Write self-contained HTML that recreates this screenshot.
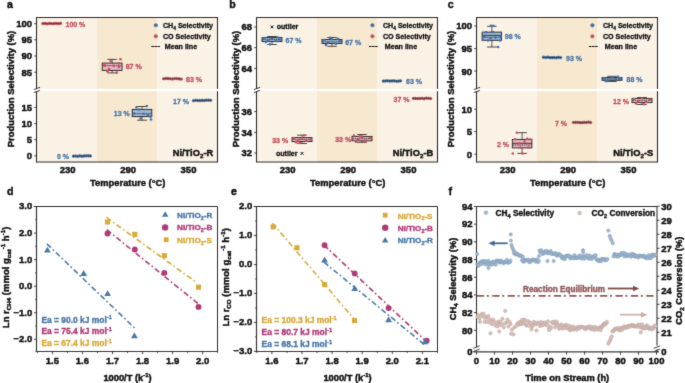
<!DOCTYPE html>
<html><head><meta charset="utf-8"><title>Figure</title>
<style>html,body{margin:0;padding:0;background:#fff;} svg{display:block;will-change:transform;} text{font-family:"Liberation Sans", sans-serif; stroke-linejoin:round;}</style>
</head><body>
<svg width="685" height="383" viewBox="0 0 685 383" font-family='"Liberation Sans", sans-serif'>
<defs><filter id="soft" x="0" y="0" width="685" height="383" filterUnits="userSpaceOnUse" color-interpolation-filters="sRGB"><feConvolveMatrix order="3" kernelMatrix="0.01134 0.08382 0.01134 0.08382 0.61935 0.08382 0.01134 0.08382 0.01134" edgeMode="duplicate" preserveAlpha="true"/></filter></defs>
<rect width="685" height="383" fill="#ffffff"/>
<g filter="url(#soft)">
<rect width="685" height="383" fill="#ffffff"/>
<rect x="36.50" y="17.50" width="60.50" height="145.00" fill="#FBF2E6" stroke="none" stroke-width="1" />
<rect x="97.00" y="17.50" width="60.00" height="145.00" fill="#F7E8D0" stroke="none" stroke-width="1" />
<rect x="157.00" y="17.50" width="60.50" height="145.00" fill="#FBF2E6" stroke="none" stroke-width="1" />
<rect x="35.90" y="88.90" width="182.60" height="2.30" fill="#ffffff" stroke="none" stroke-width="1" />
<line x1="36.50" y1="17.50" x2="217.50" y2="17.50" stroke="#2e2e2e" stroke-width="1" />
<line x1="36.50" y1="162.00" x2="217.50" y2="162.00" stroke="#2e2e2e" stroke-width="1.1" />
<line x1="36.50" y1="17.00" x2="36.50" y2="88.90" stroke="#2e2e2e" stroke-width="1.1" />
<line x1="36.50" y1="91.20" x2="36.50" y2="162.50" stroke="#2e2e2e" stroke-width="1.1" />
<line x1="217.50" y1="17.00" x2="217.50" y2="88.90" stroke="#2e2e2e" stroke-width="1.1" />
<line x1="217.50" y1="91.20" x2="217.50" y2="162.50" stroke="#2e2e2e" stroke-width="1.1" />
<line x1="33.90" y1="89.60" x2="40.00" y2="87.30" stroke="#222" stroke-width="0.9" />
<line x1="33.90" y1="92.60" x2="40.00" y2="90.40" stroke="#222" stroke-width="0.9" />
<line x1="34.20" y1="23.70" x2="36.50" y2="23.70" stroke="#2e2e2e" stroke-width="0.9" />
<text x="32.10" y="27.10" font-size="9.5" fill="#111" stroke="#111" stroke-width="0.45" text-anchor="end" font-weight="bold" >100</text>
<line x1="34.20" y1="39.80" x2="36.50" y2="39.80" stroke="#2e2e2e" stroke-width="0.9" />
<text x="32.10" y="43.20" font-size="9.5" fill="#111" stroke="#111" stroke-width="0.45" text-anchor="end" font-weight="bold" >95</text>
<line x1="34.20" y1="56.00" x2="36.50" y2="56.00" stroke="#2e2e2e" stroke-width="0.9" />
<text x="32.10" y="59.40" font-size="9.5" fill="#111" stroke="#111" stroke-width="0.45" text-anchor="end" font-weight="bold" >90</text>
<line x1="34.20" y1="72.20" x2="36.50" y2="72.20" stroke="#2e2e2e" stroke-width="0.9" />
<text x="32.10" y="75.60" font-size="9.5" fill="#111" stroke="#111" stroke-width="0.45" text-anchor="end" font-weight="bold" >85</text>
<line x1="34.20" y1="107.40" x2="36.50" y2="107.40" stroke="#2e2e2e" stroke-width="0.9" />
<text x="32.10" y="110.80" font-size="9.5" fill="#111" stroke="#111" stroke-width="0.45" text-anchor="end" font-weight="bold" >15</text>
<line x1="34.20" y1="123.60" x2="36.50" y2="123.60" stroke="#2e2e2e" stroke-width="0.9" />
<text x="32.10" y="127.00" font-size="9.5" fill="#111" stroke="#111" stroke-width="0.45" text-anchor="end" font-weight="bold" >10</text>
<line x1="34.20" y1="139.70" x2="36.50" y2="139.70" stroke="#2e2e2e" stroke-width="0.9" />
<text x="32.10" y="143.10" font-size="9.5" fill="#111" stroke="#111" stroke-width="0.45" text-anchor="end" font-weight="bold" >5</text>
<line x1="34.20" y1="155.90" x2="36.50" y2="155.90" stroke="#2e2e2e" stroke-width="0.9" />
<text x="32.10" y="159.30" font-size="9.5" fill="#111" stroke="#111" stroke-width="0.45" text-anchor="end" font-weight="bold" >0</text>
<text x="67.70" y="172.60" font-size="9.5" fill="#111" stroke="#111" stroke-width="0.45" text-anchor="middle" font-weight="bold" >230</text>
<text x="128.10" y="172.60" font-size="9.5" fill="#111" stroke="#111" stroke-width="0.45" text-anchor="middle" font-weight="bold" >290</text>
<text x="188.50" y="172.60" font-size="9.5" fill="#111" stroke="#111" stroke-width="0.45" text-anchor="middle" font-weight="bold" >350</text>
<text x="127.70" y="185.80" font-size="9.35" fill="#111" stroke="#111" stroke-width="0.45" text-anchor="middle" font-weight="bold" >Temperature (°C)</text>
<text transform="translate(14.0,89.0) rotate(-90)" font-size="9.45" font-weight="bold" fill="#111" stroke="#111" stroke-width="0.45" text-anchor="middle">Production Selectivity (%)</text>
<text x="7.10" y="7.80" font-size="10.6" fill="#1a1414" stroke="#1a1414" stroke-width="0.45" text-anchor="start" font-weight="bold" >a</text>
<text x="213.20" y="155.9" font-size="9.3" font-weight="bold" fill="#111" stroke="#111" stroke-width="0.45" text-anchor="end">Ni/TiO<tspan font-size="6.2" dy="2.2">2</tspan><tspan dy="-2.2">-R</tspan></text>
<circle cx="155.80" cy="25.30" r="1.75" fill="#3F72A8" stroke="#2f5f92" stroke-width="0.4" />
<circle cx="155.80" cy="36.30" r="1.75" fill="#C8505F" stroke="#b04050" stroke-width="0.4" />
<line x1="151.30" y1="46.50" x2="159.90" y2="46.50" stroke="#111" stroke-width="1.0" stroke-dasharray="2.6,0.5"/>
<text x="163.00" y="28" font-size="7.1" font-weight="bold" fill="#111" stroke="#111" stroke-width="0.30000000000000004">CH<tspan font-size="4.8" dy="1.6">4</tspan><tspan dy="-1.6"> Selectivity</tspan></text>
<text x="163.00" y="38.80" font-size="7.1" fill="#111" stroke="#111" stroke-width="0.30000000000000004" text-anchor="start" font-weight="bold" >CO Selectivity</text>
<text x="164.80" y="48.60" font-size="7.1" fill="#111" stroke="#111" stroke-width="0.30000000000000004" text-anchor="start" font-weight="bold" >Mean line</text>
<circle cx="42.90" cy="23.56" r="1.35" fill="#C8505F" stroke="#a83848" stroke-width="0.4" />
<circle cx="45.11" cy="23.42" r="1.35" fill="#C8505F" stroke="#a83848" stroke-width="0.4" />
<circle cx="47.33" cy="23.82" r="1.35" fill="#C8505F" stroke="#a83848" stroke-width="0.4" />
<circle cx="49.54" cy="23.36" r="1.35" fill="#C8505F" stroke="#a83848" stroke-width="0.4" />
<circle cx="51.75" cy="23.73" r="1.35" fill="#C8505F" stroke="#a83848" stroke-width="0.4" />
<circle cx="53.96" cy="23.59" r="1.35" fill="#C8505F" stroke="#a83848" stroke-width="0.4" />
<circle cx="56.17" cy="23.35" r="1.35" fill="#C8505F" stroke="#a83848" stroke-width="0.4" />
<circle cx="58.39" cy="23.71" r="1.35" fill="#C8505F" stroke="#a83848" stroke-width="0.4" />
<circle cx="60.60" cy="23.33" r="1.35" fill="#C8505F" stroke="#a83848" stroke-width="0.4" />
<line x1="41.90" y1="23.70" x2="61.60" y2="23.70" stroke="#222" stroke-width="0.8" stroke-dasharray="1.5,0.7"/>
<text x="65.50" y="26.60" font-size="7.0" fill="#C24E5C" stroke="#C24E5C" stroke-width="0.30000000000000004" text-anchor="start" font-weight="bold" >100 %</text>
<line x1="112.15" y1="59.40" x2="112.15" y2="70.40" stroke="#333" stroke-width="0.8" />
<line x1="112.15" y1="63.10" x2="112.15" y2="72.90" stroke="#333" stroke-width="0.8" />
<line x1="107.35" y1="59.40" x2="116.95" y2="59.40" stroke="#333" stroke-width="0.9" />
<line x1="107.35" y1="72.90" x2="116.95" y2="72.90" stroke="#333" stroke-width="0.9" />
<rect x="102.20" y="63.10" width="19.90" height="7.30" fill="#E7B6C0" stroke="#222" stroke-width="0.9" />
<line x1="102.70" y1="65.70" x2="121.60" y2="65.70" stroke="#222" stroke-width="0.8" stroke-dasharray="1.5,0.7"/>
<circle cx="120.50" cy="59.30" r="1.30" fill="#C8505F" stroke="none" stroke-width="0" />
<circle cx="110.80" cy="61.20" r="1.30" fill="#C8505F" stroke="none" stroke-width="0" />
<circle cx="118.60" cy="63.40" r="1.30" fill="#C8505F" stroke="none" stroke-width="0" />
<circle cx="107.50" cy="71.40" r="1.30" fill="#C8505F" stroke="none" stroke-width="0" />
<circle cx="116.80" cy="72.60" r="1.30" fill="#C8505F" stroke="none" stroke-width="0" />
<circle cx="105.00" cy="65.80" r="1.30" fill="#C8505F" stroke="none" stroke-width="0" />
<circle cx="114.00" cy="65.70" r="1.30" fill="#C8505F" stroke="none" stroke-width="0" />
<circle cx="109.00" cy="69.00" r="1.30" fill="#C8505F" stroke="none" stroke-width="0" />
<circle cx="119.00" cy="67.00" r="1.30" fill="#C8505F" stroke="none" stroke-width="0" />
<circle cx="104.50" cy="64.00" r="1.30" fill="#C8505F" stroke="none" stroke-width="0" />
<text x="125.70" y="69.10" font-size="7.0" fill="#C24E5C" stroke="#C24E5C" stroke-width="0.30000000000000004" text-anchor="start" font-weight="bold" >87 %</text>
<circle cx="163.70" cy="78.75" r="1.35" fill="#C8505F" stroke="#a83848" stroke-width="0.4" />
<circle cx="165.89" cy="78.46" r="1.35" fill="#C8505F" stroke="#a83848" stroke-width="0.4" />
<circle cx="168.07" cy="78.47" r="1.35" fill="#C8505F" stroke="#a83848" stroke-width="0.4" />
<circle cx="170.26" cy="78.74" r="1.35" fill="#C8505F" stroke="#a83848" stroke-width="0.4" />
<circle cx="172.45" cy="79.06" r="1.35" fill="#C8505F" stroke="#a83848" stroke-width="0.4" />
<circle cx="174.64" cy="78.50" r="1.35" fill="#C8505F" stroke="#a83848" stroke-width="0.4" />
<circle cx="176.82" cy="78.58" r="1.35" fill="#C8505F" stroke="#a83848" stroke-width="0.4" />
<circle cx="179.01" cy="78.90" r="1.35" fill="#C8505F" stroke="#a83848" stroke-width="0.4" />
<circle cx="181.20" cy="79.16" r="1.35" fill="#C8505F" stroke="#a83848" stroke-width="0.4" />
<line x1="162.70" y1="78.80" x2="182.20" y2="78.80" stroke="#222" stroke-width="0.8" stroke-dasharray="1.5,0.7"/>
<text x="186.10" y="81.80" font-size="7.0" fill="#C24E5C" stroke="#C24E5C" stroke-width="0.30000000000000004" text-anchor="start" font-weight="bold" >83 %</text>
<circle cx="73.50" cy="156.16" r="1.35" fill="#3F72A8" stroke="#2a5888" stroke-width="0.4" />
<circle cx="75.60" cy="156.02" r="1.35" fill="#3F72A8" stroke="#2a5888" stroke-width="0.4" />
<circle cx="77.70" cy="156.48" r="1.35" fill="#3F72A8" stroke="#2a5888" stroke-width="0.4" />
<circle cx="79.80" cy="155.74" r="1.35" fill="#3F72A8" stroke="#2a5888" stroke-width="0.4" />
<circle cx="81.90" cy="156.39" r="1.35" fill="#3F72A8" stroke="#2a5888" stroke-width="0.4" />
<circle cx="84.00" cy="155.93" r="1.35" fill="#3F72A8" stroke="#2a5888" stroke-width="0.4" />
<circle cx="86.10" cy="155.82" r="1.35" fill="#3F72A8" stroke="#2a5888" stroke-width="0.4" />
<circle cx="88.20" cy="155.79" r="1.35" fill="#3F72A8" stroke="#2a5888" stroke-width="0.4" />
<circle cx="90.30" cy="155.95" r="1.35" fill="#3F72A8" stroke="#2a5888" stroke-width="0.4" />
<line x1="72.50" y1="156.10" x2="91.30" y2="156.10" stroke="#222" stroke-width="0.8" stroke-dasharray="1.5,0.7"/>
<text x="57.00" y="159.00" font-size="7.0" fill="#4775A5" stroke="#4775A5" stroke-width="0.30000000000000004" text-anchor="start" font-weight="bold" >0 %</text>
<line x1="142.00" y1="106.50" x2="142.00" y2="116.60" stroke="#333" stroke-width="0.8" />
<line x1="142.00" y1="109.40" x2="142.00" y2="120.20" stroke="#333" stroke-width="0.8" />
<line x1="137.20" y1="106.50" x2="146.80" y2="106.50" stroke="#333" stroke-width="0.9" />
<line x1="137.20" y1="120.20" x2="146.80" y2="120.20" stroke="#333" stroke-width="0.9" />
<rect x="132.20" y="109.40" width="19.60" height="7.20" fill="#9CB7D6" stroke="#222" stroke-width="0.9" />
<line x1="132.70" y1="113.70" x2="151.30" y2="113.70" stroke="#222" stroke-width="0.8" stroke-dasharray="1.5,0.7"/>
<circle cx="136.50" cy="107.30" r="1.30" fill="#3F72A8" stroke="none" stroke-width="0" />
<circle cx="146.80" cy="106.00" r="1.30" fill="#3F72A8" stroke="none" stroke-width="0" />
<circle cx="139.00" cy="109.50" r="1.30" fill="#3F72A8" stroke="none" stroke-width="0" />
<circle cx="150.50" cy="116.80" r="1.30" fill="#3F72A8" stroke="none" stroke-width="0" />
<circle cx="151.00" cy="119.50" r="1.30" fill="#3F72A8" stroke="none" stroke-width="0" />
<circle cx="140.50" cy="118.50" r="1.30" fill="#3F72A8" stroke="none" stroke-width="0" />
<circle cx="134.00" cy="113.50" r="1.30" fill="#3F72A8" stroke="none" stroke-width="0" />
<circle cx="144.00" cy="113.80" r="1.30" fill="#3F72A8" stroke="none" stroke-width="0" />
<circle cx="148.00" cy="115.00" r="1.30" fill="#3F72A8" stroke="none" stroke-width="0" />
<text x="113.80" y="116.00" font-size="7.0" fill="#4775A5" stroke="#4775A5" stroke-width="0.30000000000000004" text-anchor="start" font-weight="bold" >13 %</text>
<circle cx="193.50" cy="100.75" r="1.35" fill="#3F72A8" stroke="#2a5888" stroke-width="0.4" />
<circle cx="195.64" cy="100.24" r="1.35" fill="#3F72A8" stroke="#2a5888" stroke-width="0.4" />
<circle cx="197.78" cy="100.57" r="1.35" fill="#3F72A8" stroke="#2a5888" stroke-width="0.4" />
<circle cx="199.91" cy="100.61" r="1.35" fill="#3F72A8" stroke="#2a5888" stroke-width="0.4" />
<circle cx="202.05" cy="100.40" r="1.35" fill="#3F72A8" stroke="#2a5888" stroke-width="0.4" />
<circle cx="204.19" cy="100.54" r="1.35" fill="#3F72A8" stroke="#2a5888" stroke-width="0.4" />
<circle cx="206.32" cy="100.15" r="1.35" fill="#3F72A8" stroke="#2a5888" stroke-width="0.4" />
<circle cx="208.46" cy="100.15" r="1.35" fill="#3F72A8" stroke="#2a5888" stroke-width="0.4" />
<circle cx="210.60" cy="100.26" r="1.35" fill="#3F72A8" stroke="#2a5888" stroke-width="0.4" />
<line x1="192.50" y1="100.50" x2="211.60" y2="100.50" stroke="#222" stroke-width="0.8" stroke-dasharray="1.5,0.7"/>
<text x="173.00" y="104.10" font-size="7.0" fill="#4775A5" stroke="#4775A5" stroke-width="0.30000000000000004" text-anchor="start" font-weight="bold" >17 %</text>
<rect x="256.50" y="17.50" width="60.50" height="145.00" fill="#FBF2E6" stroke="none" stroke-width="1" />
<rect x="317.00" y="17.50" width="60.00" height="145.00" fill="#F7E8D0" stroke="none" stroke-width="1" />
<rect x="377.00" y="17.50" width="60.50" height="145.00" fill="#FBF2E6" stroke="none" stroke-width="1" />
<rect x="255.90" y="88.90" width="182.60" height="2.30" fill="#ffffff" stroke="none" stroke-width="1" />
<line x1="256.50" y1="17.50" x2="437.50" y2="17.50" stroke="#2e2e2e" stroke-width="1" />
<line x1="256.50" y1="162.00" x2="437.50" y2="162.00" stroke="#2e2e2e" stroke-width="1.1" />
<line x1="256.50" y1="17.00" x2="256.50" y2="88.90" stroke="#2e2e2e" stroke-width="1.1" />
<line x1="256.50" y1="91.20" x2="256.50" y2="162.50" stroke="#2e2e2e" stroke-width="1.1" />
<line x1="437.50" y1="17.00" x2="437.50" y2="88.90" stroke="#2e2e2e" stroke-width="1.1" />
<line x1="437.50" y1="91.20" x2="437.50" y2="162.50" stroke="#2e2e2e" stroke-width="1.1" />
<line x1="253.90" y1="89.60" x2="260.00" y2="87.30" stroke="#222" stroke-width="0.9" />
<line x1="253.90" y1="92.60" x2="260.00" y2="90.40" stroke="#222" stroke-width="0.9" />
<line x1="254.20" y1="27.00" x2="256.50" y2="27.00" stroke="#2e2e2e" stroke-width="0.9" />
<text x="252.10" y="30.40" font-size="9.5" fill="#111" stroke="#111" stroke-width="0.45" text-anchor="end" font-weight="bold" >68</text>
<line x1="254.20" y1="47.70" x2="256.50" y2="47.70" stroke="#2e2e2e" stroke-width="0.9" />
<text x="252.10" y="51.10" font-size="9.5" fill="#111" stroke="#111" stroke-width="0.45" text-anchor="end" font-weight="bold" >66</text>
<line x1="254.20" y1="68.40" x2="256.50" y2="68.40" stroke="#2e2e2e" stroke-width="0.9" />
<text x="252.10" y="71.80" font-size="9.5" fill="#111" stroke="#111" stroke-width="0.45" text-anchor="end" font-weight="bold" >64</text>
<line x1="254.20" y1="111.60" x2="256.50" y2="111.60" stroke="#2e2e2e" stroke-width="0.9" />
<text x="252.10" y="115.00" font-size="9.5" fill="#111" stroke="#111" stroke-width="0.45" text-anchor="end" font-weight="bold" >36</text>
<line x1="254.20" y1="132.40" x2="256.50" y2="132.40" stroke="#2e2e2e" stroke-width="0.9" />
<text x="252.10" y="135.80" font-size="9.5" fill="#111" stroke="#111" stroke-width="0.45" text-anchor="end" font-weight="bold" >34</text>
<line x1="254.20" y1="153.00" x2="256.50" y2="153.00" stroke="#2e2e2e" stroke-width="0.9" />
<text x="252.10" y="156.40" font-size="9.5" fill="#111" stroke="#111" stroke-width="0.45" text-anchor="end" font-weight="bold" >32</text>
<text x="287.70" y="172.60" font-size="9.5" fill="#111" stroke="#111" stroke-width="0.45" text-anchor="middle" font-weight="bold" >230</text>
<text x="348.10" y="172.60" font-size="9.5" fill="#111" stroke="#111" stroke-width="0.45" text-anchor="middle" font-weight="bold" >290</text>
<text x="408.50" y="172.60" font-size="9.5" fill="#111" stroke="#111" stroke-width="0.45" text-anchor="middle" font-weight="bold" >350</text>
<text x="347.70" y="185.80" font-size="9.35" fill="#111" stroke="#111" stroke-width="0.45" text-anchor="middle" font-weight="bold" >Temperature (°C)</text>
<text transform="translate(238.5,89.0) rotate(-90)" font-size="9.45" font-weight="bold" fill="#111" stroke="#111" stroke-width="0.45" text-anchor="middle">Production Selectivity (%)</text>
<text x="229.30" y="7.80" font-size="10.6" fill="#1a1414" stroke="#1a1414" stroke-width="0.45" text-anchor="start" font-weight="bold" >b</text>
<text x="433.20" y="155.9" font-size="9.3" font-weight="bold" fill="#111" stroke="#111" stroke-width="0.45" text-anchor="end">Ni/TiO<tspan font-size="6.2" dy="2.2">2</tspan><tspan dy="-2.2">-B</tspan></text>
<circle cx="372.40" cy="25.30" r="1.75" fill="#3F72A8" stroke="#2f5f92" stroke-width="0.4" />
<circle cx="372.40" cy="36.30" r="1.75" fill="#C8505F" stroke="#b04050" stroke-width="0.4" />
<line x1="368.90" y1="46.50" x2="377.90" y2="46.50" stroke="#111" stroke-width="1.0" stroke-dasharray="2.6,0.5"/>
<text x="383.00" y="28" font-size="7.1" font-weight="bold" fill="#111" stroke="#111" stroke-width="0.30000000000000004">CH<tspan font-size="4.8" dy="1.6">4</tspan><tspan dy="-1.6"> Selectivity</tspan></text>
<text x="383.00" y="38.80" font-size="7.1" fill="#111" stroke="#111" stroke-width="0.30000000000000004" text-anchor="start" font-weight="bold" >CO Selectivity</text>
<text x="384.80" y="48.60" font-size="7.1" fill="#111" stroke="#111" stroke-width="0.30000000000000004" text-anchor="start" font-weight="bold" >Mean line</text>
<line x1="272.00" y1="36.50" x2="272.00" y2="41.60" stroke="#333" stroke-width="0.8" />
<line x1="272.00" y1="37.60" x2="272.00" y2="44.50" stroke="#333" stroke-width="0.8" />
<line x1="267.20" y1="36.50" x2="276.80" y2="36.50" stroke="#333" stroke-width="0.9" />
<line x1="267.20" y1="44.50" x2="276.80" y2="44.50" stroke="#333" stroke-width="0.9" />
<rect x="262.00" y="37.60" width="20.00" height="4.00" fill="#9CB7D6" stroke="#222" stroke-width="0.9" />
<line x1="262.50" y1="39.60" x2="281.50" y2="39.60" stroke="#222" stroke-width="0.8" stroke-dasharray="1.5,0.7"/>
<circle cx="264.00" cy="38.00" r="1.30" fill="#3F72A8" stroke="none" stroke-width="0" />
<circle cx="268.00" cy="40.50" r="1.30" fill="#3F72A8" stroke="none" stroke-width="0" />
<circle cx="272.00" cy="38.80" r="1.30" fill="#3F72A8" stroke="none" stroke-width="0" />
<circle cx="276.00" cy="41.00" r="1.30" fill="#3F72A8" stroke="none" stroke-width="0" />
<circle cx="280.00" cy="39.50" r="1.30" fill="#3F72A8" stroke="none" stroke-width="0" />
<circle cx="266.00" cy="42.00" r="1.30" fill="#3F72A8" stroke="none" stroke-width="0" />
<circle cx="278.00" cy="37.50" r="1.30" fill="#3F72A8" stroke="none" stroke-width="0" />
<circle cx="270.00" cy="44.30" r="1.30" fill="#3F72A8" stroke="none" stroke-width="0" />
<text x="285.50" y="42.80" font-size="7.0" fill="#4775A5" stroke="#4775A5" stroke-width="0.30000000000000004" text-anchor="start" font-weight="bold" >67 %</text>
<line x1="332.00" y1="37.50" x2="332.00" y2="43.50" stroke="#333" stroke-width="0.8" />
<line x1="332.00" y1="39.50" x2="332.00" y2="46.30" stroke="#333" stroke-width="0.8" />
<line x1="327.20" y1="37.50" x2="336.80" y2="37.50" stroke="#333" stroke-width="0.9" />
<line x1="327.20" y1="46.30" x2="336.80" y2="46.30" stroke="#333" stroke-width="0.9" />
<rect x="322.00" y="39.50" width="20.00" height="4.00" fill="#9CB7D6" stroke="#222" stroke-width="0.9" />
<line x1="322.50" y1="41.80" x2="341.50" y2="41.80" stroke="#222" stroke-width="0.8" stroke-dasharray="1.5,0.7"/>
<circle cx="324.00" cy="40.00" r="1.30" fill="#3F72A8" stroke="none" stroke-width="0" />
<circle cx="328.00" cy="42.50" r="1.30" fill="#3F72A8" stroke="none" stroke-width="0" />
<circle cx="332.00" cy="39.30" r="1.30" fill="#3F72A8" stroke="none" stroke-width="0" />
<circle cx="336.00" cy="43.80" r="1.30" fill="#3F72A8" stroke="none" stroke-width="0" />
<circle cx="340.00" cy="41.00" r="1.30" fill="#3F72A8" stroke="none" stroke-width="0" />
<circle cx="326.00" cy="45.00" r="1.30" fill="#3F72A8" stroke="none" stroke-width="0" />
<circle cx="338.00" cy="38.80" r="1.30" fill="#3F72A8" stroke="none" stroke-width="0" />
<circle cx="330.00" cy="37.80" r="1.30" fill="#3F72A8" stroke="none" stroke-width="0" />
<text x="345.20" y="45.20" font-size="7.0" fill="#4775A5" stroke="#4775A5" stroke-width="0.30000000000000004" text-anchor="start" font-weight="bold" >67 %</text>
<circle cx="383.50" cy="81.14" r="1.35" fill="#3F72A8" stroke="#2a5888" stroke-width="0.4" />
<circle cx="385.62" cy="80.94" r="1.35" fill="#3F72A8" stroke="#2a5888" stroke-width="0.4" />
<circle cx="387.75" cy="80.85" r="1.35" fill="#3F72A8" stroke="#2a5888" stroke-width="0.4" />
<circle cx="389.88" cy="81.07" r="1.35" fill="#3F72A8" stroke="#2a5888" stroke-width="0.4" />
<circle cx="392.00" cy="80.96" r="1.35" fill="#3F72A8" stroke="#2a5888" stroke-width="0.4" />
<circle cx="394.12" cy="80.84" r="1.35" fill="#3F72A8" stroke="#2a5888" stroke-width="0.4" />
<circle cx="396.25" cy="81.24" r="1.35" fill="#3F72A8" stroke="#2a5888" stroke-width="0.4" />
<circle cx="398.38" cy="81.16" r="1.35" fill="#3F72A8" stroke="#2a5888" stroke-width="0.4" />
<circle cx="400.50" cy="80.80" r="1.35" fill="#3F72A8" stroke="#2a5888" stroke-width="0.4" />
<line x1="382.50" y1="81.00" x2="401.50" y2="81.00" stroke="#222" stroke-width="0.8" stroke-dasharray="1.5,0.7"/>
<text x="406.00" y="83.80" font-size="7.0" fill="#4775A5" stroke="#4775A5" stroke-width="0.30000000000000004" text-anchor="start" font-weight="bold" >63 %</text>
<line x1="302.00" y1="135.20" x2="302.00" y2="141.60" stroke="#333" stroke-width="0.8" />
<line x1="302.00" y1="137.60" x2="302.00" y2="143.50" stroke="#333" stroke-width="0.8" />
<line x1="297.20" y1="135.20" x2="306.80" y2="135.20" stroke="#333" stroke-width="0.9" />
<line x1="297.20" y1="143.50" x2="306.80" y2="143.50" stroke="#333" stroke-width="0.9" />
<rect x="292.00" y="137.60" width="20.00" height="4.00" fill="#E7B6C0" stroke="#222" stroke-width="0.9" />
<line x1="292.50" y1="139.40" x2="311.50" y2="139.40" stroke="#222" stroke-width="0.8" stroke-dasharray="1.5,0.7"/>
<circle cx="294.00" cy="138.00" r="1.30" fill="#C8505F" stroke="none" stroke-width="0" />
<circle cx="298.00" cy="140.50" r="1.30" fill="#C8505F" stroke="none" stroke-width="0" />
<circle cx="302.00" cy="138.30" r="1.30" fill="#C8505F" stroke="none" stroke-width="0" />
<circle cx="306.00" cy="141.00" r="1.30" fill="#C8505F" stroke="none" stroke-width="0" />
<circle cx="310.00" cy="139.50" r="1.30" fill="#C8505F" stroke="none" stroke-width="0" />
<circle cx="296.00" cy="142.30" r="1.30" fill="#C8505F" stroke="none" stroke-width="0" />
<circle cx="304.00" cy="135.30" r="1.30" fill="#C8505F" stroke="none" stroke-width="0" />
<circle cx="300.00" cy="143.00" r="1.30" fill="#C8505F" stroke="none" stroke-width="0" />
<text x="272.20" y="142.80" font-size="7.0" fill="#C24E5C" stroke="#C24E5C" stroke-width="0.30000000000000004" text-anchor="start" font-weight="bold" >33 %</text>
<line x1="362.00" y1="134.50" x2="362.00" y2="140.80" stroke="#333" stroke-width="0.8" />
<line x1="362.00" y1="136.40" x2="362.00" y2="142.40" stroke="#333" stroke-width="0.8" />
<line x1="357.20" y1="134.50" x2="366.80" y2="134.50" stroke="#333" stroke-width="0.9" />
<line x1="357.20" y1="142.40" x2="366.80" y2="142.40" stroke="#333" stroke-width="0.9" />
<rect x="352.00" y="136.40" width="20.00" height="4.40" fill="#E7B6C0" stroke="#222" stroke-width="0.9" />
<line x1="352.50" y1="138.60" x2="371.50" y2="138.60" stroke="#222" stroke-width="0.8" stroke-dasharray="1.5,0.7"/>
<circle cx="354.00" cy="135.50" r="1.30" fill="#C8505F" stroke="none" stroke-width="0" />
<circle cx="358.00" cy="139.50" r="1.30" fill="#C8505F" stroke="none" stroke-width="0" />
<circle cx="362.00" cy="137.20" r="1.30" fill="#C8505F" stroke="none" stroke-width="0" />
<circle cx="366.00" cy="140.50" r="1.30" fill="#C8505F" stroke="none" stroke-width="0" />
<circle cx="370.00" cy="138.00" r="1.30" fill="#C8505F" stroke="none" stroke-width="0" />
<circle cx="356.00" cy="141.80" r="1.30" fill="#C8505F" stroke="none" stroke-width="0" />
<circle cx="364.00" cy="141.70" r="1.30" fill="#C8505F" stroke="none" stroke-width="0" />
<circle cx="360.00" cy="136.00" r="1.30" fill="#C8505F" stroke="none" stroke-width="0" />
<text x="335.20" y="142.00" font-size="7.0" fill="#C24E5C" stroke="#C24E5C" stroke-width="0.30000000000000004" text-anchor="start" font-weight="bold" >33 %</text>
<circle cx="413.50" cy="98.46" r="1.35" fill="#C8505F" stroke="#a83848" stroke-width="0.4" />
<circle cx="415.62" cy="98.42" r="1.35" fill="#C8505F" stroke="#a83848" stroke-width="0.4" />
<circle cx="417.75" cy="98.70" r="1.35" fill="#C8505F" stroke="#a83848" stroke-width="0.4" />
<circle cx="419.88" cy="98.58" r="1.35" fill="#C8505F" stroke="#a83848" stroke-width="0.4" />
<circle cx="422.00" cy="98.23" r="1.35" fill="#C8505F" stroke="#a83848" stroke-width="0.4" />
<circle cx="424.12" cy="98.78" r="1.35" fill="#C8505F" stroke="#a83848" stroke-width="0.4" />
<circle cx="426.25" cy="98.09" r="1.35" fill="#C8505F" stroke="#a83848" stroke-width="0.4" />
<circle cx="428.38" cy="98.33" r="1.35" fill="#C8505F" stroke="#a83848" stroke-width="0.4" />
<circle cx="430.50" cy="98.61" r="1.35" fill="#C8505F" stroke="#a83848" stroke-width="0.4" />
<line x1="412.50" y1="98.40" x2="431.50" y2="98.40" stroke="#222" stroke-width="0.8" stroke-dasharray="1.5,0.7"/>
<text x="393.60" y="102.00" font-size="7.0" fill="#C24E5C" stroke="#C24E5C" stroke-width="0.30000000000000004" text-anchor="start" font-weight="bold" >37 %</text>
<text x="276.70" y="28.80" font-size="7.1" fill="#111" stroke="#111" stroke-width="0.30000000000000004" text-anchor="start" font-weight="bold" >outlier</text>
<line x1="270.60" y1="25.50" x2="273.40" y2="28.30" stroke="#111" stroke-width="1.0" />
<line x1="270.60" y1="28.30" x2="273.40" y2="25.50" stroke="#111" stroke-width="1.0" />
<text x="275.90" y="155.70" font-size="7.1" fill="#111" stroke="#111" stroke-width="0.30000000000000004" text-anchor="start" font-weight="bold" >outlier</text>
<line x1="300.60" y1="152.00" x2="303.40" y2="154.80" stroke="#111" stroke-width="1.0" />
<line x1="300.60" y1="154.80" x2="303.40" y2="152.00" stroke="#111" stroke-width="1.0" />
<rect x="476.50" y="17.50" width="60.50" height="145.00" fill="#FBF2E6" stroke="none" stroke-width="1" />
<rect x="537.00" y="17.50" width="60.00" height="145.00" fill="#F7E8D0" stroke="none" stroke-width="1" />
<rect x="597.00" y="17.50" width="60.50" height="145.00" fill="#FBF2E6" stroke="none" stroke-width="1" />
<rect x="475.90" y="88.90" width="182.60" height="2.30" fill="#ffffff" stroke="none" stroke-width="1" />
<line x1="476.50" y1="17.50" x2="657.50" y2="17.50" stroke="#2e2e2e" stroke-width="1" />
<line x1="476.50" y1="162.00" x2="657.50" y2="162.00" stroke="#2e2e2e" stroke-width="1.1" />
<line x1="476.50" y1="17.00" x2="476.50" y2="88.90" stroke="#2e2e2e" stroke-width="1.1" />
<line x1="476.50" y1="91.20" x2="476.50" y2="162.50" stroke="#2e2e2e" stroke-width="1.1" />
<line x1="657.50" y1="17.00" x2="657.50" y2="88.90" stroke="#2e2e2e" stroke-width="1.1" />
<line x1="657.50" y1="91.20" x2="657.50" y2="162.50" stroke="#2e2e2e" stroke-width="1.1" />
<line x1="473.90" y1="89.60" x2="480.00" y2="87.30" stroke="#222" stroke-width="0.9" />
<line x1="473.90" y1="92.60" x2="480.00" y2="90.40" stroke="#222" stroke-width="0.9" />
<line x1="474.20" y1="26.00" x2="476.50" y2="26.00" stroke="#2e2e2e" stroke-width="0.9" />
<text x="472.10" y="29.40" font-size="9.5" fill="#111" stroke="#111" stroke-width="0.45" text-anchor="end" font-weight="bold" >100</text>
<line x1="474.20" y1="48.60" x2="476.50" y2="48.60" stroke="#2e2e2e" stroke-width="0.9" />
<text x="472.10" y="52.00" font-size="9.5" fill="#111" stroke="#111" stroke-width="0.45" text-anchor="end" font-weight="bold" >95</text>
<line x1="474.20" y1="71.10" x2="476.50" y2="71.10" stroke="#2e2e2e" stroke-width="0.9" />
<text x="472.10" y="74.50" font-size="9.5" fill="#111" stroke="#111" stroke-width="0.45" text-anchor="end" font-weight="bold" >90</text>
<line x1="474.20" y1="109.20" x2="476.50" y2="109.20" stroke="#2e2e2e" stroke-width="0.9" />
<text x="472.10" y="112.60" font-size="9.5" fill="#111" stroke="#111" stroke-width="0.45" text-anchor="end" font-weight="bold" >10</text>
<line x1="474.20" y1="131.70" x2="476.50" y2="131.70" stroke="#2e2e2e" stroke-width="0.9" />
<text x="472.10" y="135.10" font-size="9.5" fill="#111" stroke="#111" stroke-width="0.45" text-anchor="end" font-weight="bold" >5</text>
<line x1="474.20" y1="154.20" x2="476.50" y2="154.20" stroke="#2e2e2e" stroke-width="0.9" />
<text x="472.10" y="157.60" font-size="9.5" fill="#111" stroke="#111" stroke-width="0.45" text-anchor="end" font-weight="bold" >0</text>
<text x="507.70" y="172.60" font-size="9.5" fill="#111" stroke="#111" stroke-width="0.45" text-anchor="middle" font-weight="bold" >230</text>
<text x="568.10" y="172.60" font-size="9.5" fill="#111" stroke="#111" stroke-width="0.45" text-anchor="middle" font-weight="bold" >290</text>
<text x="628.50" y="172.60" font-size="9.5" fill="#111" stroke="#111" stroke-width="0.45" text-anchor="middle" font-weight="bold" >350</text>
<text x="567.70" y="185.80" font-size="9.35" fill="#111" stroke="#111" stroke-width="0.45" text-anchor="middle" font-weight="bold" >Temperature (°C)</text>
<text transform="translate(454.0,89.0) rotate(-90)" font-size="9.45" font-weight="bold" fill="#111" stroke="#111" stroke-width="0.45" text-anchor="middle">Production Selectivity (%)</text>
<text x="447.70" y="7.80" font-size="10.6" fill="#1a1414" stroke="#1a1414" stroke-width="0.45" text-anchor="start" font-weight="bold" >c</text>
<text x="653.20" y="155.9" font-size="9.3" font-weight="bold" fill="#111" stroke="#111" stroke-width="0.45" text-anchor="end">Ni/TiO<tspan font-size="6.2" dy="2.2">2</tspan><tspan dy="-2.2">-S</tspan></text>
<circle cx="592.40" cy="25.30" r="1.75" fill="#3F72A8" stroke="#2f5f92" stroke-width="0.4" />
<circle cx="592.40" cy="36.30" r="1.75" fill="#C8505F" stroke="#b04050" stroke-width="0.4" />
<line x1="588.90" y1="46.50" x2="597.90" y2="46.50" stroke="#111" stroke-width="1.0" stroke-dasharray="2.6,0.5"/>
<text x="603.00" y="28" font-size="7.1" font-weight="bold" fill="#111" stroke="#111" stroke-width="0.30000000000000004">CH<tspan font-size="4.8" dy="1.6">4</tspan><tspan dy="-1.6"> Selectivity</tspan></text>
<text x="603.00" y="38.80" font-size="7.1" fill="#111" stroke="#111" stroke-width="0.30000000000000004" text-anchor="start" font-weight="bold" >CO Selectivity</text>
<text x="604.80" y="48.60" font-size="7.1" fill="#111" stroke="#111" stroke-width="0.30000000000000004" text-anchor="start" font-weight="bold" >Mean line</text>
<line x1="491.85" y1="26.30" x2="491.85" y2="40.30" stroke="#333" stroke-width="0.8" />
<line x1="491.85" y1="32.10" x2="491.85" y2="47.00" stroke="#333" stroke-width="0.8" />
<line x1="487.05" y1="26.30" x2="496.65" y2="26.30" stroke="#333" stroke-width="0.9" />
<line x1="487.05" y1="47.00" x2="496.65" y2="47.00" stroke="#333" stroke-width="0.9" />
<rect x="482.10" y="32.10" width="19.50" height="8.20" fill="#9CB7D6" stroke="#222" stroke-width="0.9" />
<line x1="482.60" y1="37.30" x2="501.10" y2="37.30" stroke="#222" stroke-width="0.8" stroke-dasharray="1.5,0.7"/>
<line x1="482.10" y1="35.40" x2="501.60" y2="35.40" stroke="#2a2a2a" stroke-width="0.9" />
<circle cx="491.00" cy="25.80" r="1.30" fill="#3F72A8" stroke="none" stroke-width="0" />
<circle cx="493.50" cy="25.80" r="1.30" fill="#3F72A8" stroke="none" stroke-width="0" />
<circle cx="486.00" cy="32.30" r="1.30" fill="#3F72A8" stroke="none" stroke-width="0" />
<circle cx="493.00" cy="32.00" r="1.30" fill="#3F72A8" stroke="none" stroke-width="0" />
<circle cx="495.50" cy="37.60" r="1.30" fill="#3F72A8" stroke="none" stroke-width="0" />
<circle cx="490.50" cy="38.30" r="1.30" fill="#3F72A8" stroke="none" stroke-width="0" />
<circle cx="483.00" cy="40.00" r="1.30" fill="#3F72A8" stroke="none" stroke-width="0" />
<circle cx="488.00" cy="40.50" r="1.30" fill="#3F72A8" stroke="none" stroke-width="0" />
<circle cx="500.00" cy="40.50" r="1.30" fill="#3F72A8" stroke="none" stroke-width="0" />
<circle cx="498.00" cy="47.00" r="1.30" fill="#3F72A8" stroke="none" stroke-width="0" />
<circle cx="500.50" cy="36.50" r="1.30" fill="#3F72A8" stroke="none" stroke-width="0" />
<circle cx="484.50" cy="36.80" r="1.30" fill="#3F72A8" stroke="none" stroke-width="0" />
<text x="504.80" y="39.40" font-size="7.0" fill="#4775A5" stroke="#4775A5" stroke-width="0.30000000000000004" text-anchor="start" font-weight="bold" >98 %</text>
<circle cx="543.50" cy="57.22" r="1.35" fill="#3F72A8" stroke="#2a5888" stroke-width="0.4" />
<circle cx="545.62" cy="57.49" r="1.35" fill="#3F72A8" stroke="#2a5888" stroke-width="0.4" />
<circle cx="547.75" cy="57.13" r="1.35" fill="#3F72A8" stroke="#2a5888" stroke-width="0.4" />
<circle cx="549.88" cy="57.63" r="1.35" fill="#3F72A8" stroke="#2a5888" stroke-width="0.4" />
<circle cx="552.00" cy="57.71" r="1.35" fill="#3F72A8" stroke="#2a5888" stroke-width="0.4" />
<circle cx="554.12" cy="57.56" r="1.35" fill="#3F72A8" stroke="#2a5888" stroke-width="0.4" />
<circle cx="556.25" cy="57.80" r="1.35" fill="#3F72A8" stroke="#2a5888" stroke-width="0.4" />
<circle cx="558.38" cy="57.35" r="1.35" fill="#3F72A8" stroke="#2a5888" stroke-width="0.4" />
<circle cx="560.50" cy="57.66" r="1.35" fill="#3F72A8" stroke="#2a5888" stroke-width="0.4" />
<line x1="542.50" y1="57.50" x2="561.50" y2="57.50" stroke="#222" stroke-width="0.8" stroke-dasharray="1.5,0.7"/>
<text x="566.00" y="60.90" font-size="7.0" fill="#4775A5" stroke="#4775A5" stroke-width="0.30000000000000004" text-anchor="start" font-weight="bold" >93 %</text>
<line x1="612.00" y1="76.30" x2="612.00" y2="80.30" stroke="#333" stroke-width="0.8" />
<line x1="612.00" y1="77.60" x2="612.00" y2="81.50" stroke="#333" stroke-width="0.8" />
<line x1="607.20" y1="76.30" x2="616.80" y2="76.30" stroke="#333" stroke-width="0.9" />
<line x1="607.20" y1="81.50" x2="616.80" y2="81.50" stroke="#333" stroke-width="0.9" />
<rect x="602.00" y="77.60" width="20.00" height="2.70" fill="#9CB7D6" stroke="#222" stroke-width="0.9" />
<line x1="602.50" y1="79.00" x2="621.50" y2="79.00" stroke="#222" stroke-width="0.8" stroke-dasharray="1.5,0.7"/>
<circle cx="604.00" cy="78.00" r="1.30" fill="#3F72A8" stroke="none" stroke-width="0" />
<circle cx="608.00" cy="80.00" r="1.30" fill="#3F72A8" stroke="none" stroke-width="0" />
<circle cx="612.00" cy="77.20" r="1.30" fill="#3F72A8" stroke="none" stroke-width="0" />
<circle cx="616.00" cy="79.50" r="1.30" fill="#3F72A8" stroke="none" stroke-width="0" />
<circle cx="620.00" cy="78.40" r="1.30" fill="#3F72A8" stroke="none" stroke-width="0" />
<circle cx="606.00" cy="81.20" r="1.30" fill="#3F72A8" stroke="none" stroke-width="0" />
<circle cx="618.00" cy="76.80" r="1.30" fill="#3F72A8" stroke="none" stroke-width="0" />
<text x="626.60" y="82.20" font-size="7.0" fill="#4775A5" stroke="#4775A5" stroke-width="0.30000000000000004" text-anchor="start" font-weight="bold" >88 %</text>
<line x1="522.10" y1="132.70" x2="522.10" y2="147.90" stroke="#333" stroke-width="0.8" />
<line x1="522.10" y1="139.40" x2="522.10" y2="153.40" stroke="#333" stroke-width="0.8" />
<line x1="517.30" y1="132.70" x2="526.90" y2="132.70" stroke="#333" stroke-width="0.9" />
<line x1="517.30" y1="153.40" x2="526.90" y2="153.40" stroke="#333" stroke-width="0.9" />
<rect x="512.30" y="139.40" width="19.60" height="8.50" fill="#E7B6C0" stroke="#222" stroke-width="0.9" />
<line x1="512.80" y1="145.00" x2="531.40" y2="145.00" stroke="#222" stroke-width="0.8" stroke-dasharray="1.5,0.7"/>
<line x1="512.30" y1="143.30" x2="531.90" y2="143.30" stroke="#2a2a2a" stroke-width="0.9" />
<circle cx="516.90" cy="132.70" r="1.30" fill="#C8505F" stroke="none" stroke-width="0" />
<circle cx="515.20" cy="139.20" r="1.30" fill="#C8505F" stroke="none" stroke-width="0" />
<circle cx="527.20" cy="138.80" r="1.30" fill="#C8505F" stroke="none" stroke-width="0" />
<circle cx="530.40" cy="139.30" r="1.30" fill="#C8505F" stroke="none" stroke-width="0" />
<circle cx="519.00" cy="143.20" r="1.30" fill="#C8505F" stroke="none" stroke-width="0" />
<circle cx="524.50" cy="141.50" r="1.30" fill="#C8505F" stroke="none" stroke-width="0" />
<circle cx="520.30" cy="147.50" r="1.30" fill="#C8505F" stroke="none" stroke-width="0" />
<circle cx="528.50" cy="147.50" r="1.30" fill="#C8505F" stroke="none" stroke-width="0" />
<circle cx="512.80" cy="153.50" r="1.30" fill="#C8505F" stroke="none" stroke-width="0" />
<circle cx="522.50" cy="153.50" r="1.30" fill="#C8505F" stroke="none" stroke-width="0" />
<text x="497.00" y="146.80" font-size="7.0" fill="#C24E5C" stroke="#C24E5C" stroke-width="0.30000000000000004" text-anchor="start" font-weight="bold" >2 %</text>
<circle cx="573.50" cy="122.48" r="1.35" fill="#C8505F" stroke="#a83848" stroke-width="0.4" />
<circle cx="575.62" cy="122.46" r="1.35" fill="#C8505F" stroke="#a83848" stroke-width="0.4" />
<circle cx="577.75" cy="122.36" r="1.35" fill="#C8505F" stroke="#a83848" stroke-width="0.4" />
<circle cx="579.88" cy="122.67" r="1.35" fill="#C8505F" stroke="#a83848" stroke-width="0.4" />
<circle cx="582.00" cy="122.76" r="1.35" fill="#C8505F" stroke="#a83848" stroke-width="0.4" />
<circle cx="584.12" cy="122.38" r="1.35" fill="#C8505F" stroke="#a83848" stroke-width="0.4" />
<circle cx="586.25" cy="122.53" r="1.35" fill="#C8505F" stroke="#a83848" stroke-width="0.4" />
<circle cx="588.38" cy="122.05" r="1.35" fill="#C8505F" stroke="#a83848" stroke-width="0.4" />
<circle cx="590.50" cy="122.56" r="1.35" fill="#C8505F" stroke="#a83848" stroke-width="0.4" />
<line x1="572.50" y1="122.40" x2="591.50" y2="122.40" stroke="#222" stroke-width="0.8" stroke-dasharray="1.5,0.7"/>
<text x="555.00" y="125.70" font-size="7.0" fill="#C24E5C" stroke="#C24E5C" stroke-width="0.30000000000000004" text-anchor="start" font-weight="bold" >7 %</text>
<line x1="642.00" y1="97.50" x2="642.00" y2="102.60" stroke="#333" stroke-width="0.8" />
<line x1="642.00" y1="98.40" x2="642.00" y2="104.50" stroke="#333" stroke-width="0.8" />
<line x1="637.20" y1="97.50" x2="646.80" y2="97.50" stroke="#333" stroke-width="0.9" />
<line x1="637.20" y1="104.50" x2="646.80" y2="104.50" stroke="#333" stroke-width="0.9" />
<rect x="632.00" y="98.40" width="20.00" height="4.20" fill="#E7B6C0" stroke="#222" stroke-width="0.9" />
<line x1="632.50" y1="100.40" x2="651.50" y2="100.40" stroke="#222" stroke-width="0.8" stroke-dasharray="1.5,0.7"/>
<circle cx="634.00" cy="99.00" r="1.30" fill="#C8505F" stroke="none" stroke-width="0" />
<circle cx="638.00" cy="101.50" r="1.30" fill="#C8505F" stroke="none" stroke-width="0" />
<circle cx="642.00" cy="98.20" r="1.30" fill="#C8505F" stroke="none" stroke-width="0" />
<circle cx="646.00" cy="102.00" r="1.30" fill="#C8505F" stroke="none" stroke-width="0" />
<circle cx="650.00" cy="99.80" r="1.30" fill="#C8505F" stroke="none" stroke-width="0" />
<circle cx="636.00" cy="103.50" r="1.30" fill="#C8505F" stroke="none" stroke-width="0" />
<circle cx="644.00" cy="104.20" r="1.30" fill="#C8505F" stroke="none" stroke-width="0" />
<text x="613.00" y="104.30" font-size="7.0" fill="#C24E5C" stroke="#C24E5C" stroke-width="0.30000000000000004" text-anchor="start" font-weight="bold" >12 %</text>
<line x1="33.70" y1="206.50" x2="217.50" y2="206.50" stroke="#2e2e2e" stroke-width="1" />
<line x1="217.50" y1="206.50" x2="217.50" y2="351.50" stroke="#2e2e2e" stroke-width="1" />
<line x1="35.50" y1="351.50" x2="218.00" y2="351.50" stroke="#3a3a3a" stroke-width="1.2" />
<line x1="36.50" y1="206.50" x2="36.50" y2="351.50" stroke="#3a3a3a" stroke-width="1.2" />
<text x="7.00" y="195.10" font-size="10.6" fill="#1a1414" stroke="#1a1414" stroke-width="0.45" text-anchor="start" font-weight="bold" >d</text>
<line x1="34.00" y1="206.50" x2="36.50" y2="206.50" stroke="#2e2e2e" stroke-width="0.9" />
<text x="32.20" y="209.45" font-size="9.5" fill="#111" stroke="#111" stroke-width="0.45" text-anchor="end" font-weight="bold" >3.0</text>
<line x1="34.00" y1="233.05" x2="36.50" y2="233.05" stroke="#2e2e2e" stroke-width="0.9" />
<text x="32.20" y="236.00" font-size="9.5" fill="#111" stroke="#111" stroke-width="0.45" text-anchor="end" font-weight="bold" >2.0</text>
<line x1="34.00" y1="259.60" x2="36.50" y2="259.60" stroke="#2e2e2e" stroke-width="0.9" />
<text x="32.20" y="262.55" font-size="9.5" fill="#111" stroke="#111" stroke-width="0.45" text-anchor="end" font-weight="bold" >1.0</text>
<line x1="34.00" y1="286.15" x2="36.50" y2="286.15" stroke="#2e2e2e" stroke-width="0.9" />
<text x="32.20" y="289.10" font-size="9.5" fill="#111" stroke="#111" stroke-width="0.45" text-anchor="end" font-weight="bold" >0.0</text>
<line x1="34.00" y1="312.70" x2="36.50" y2="312.70" stroke="#2e2e2e" stroke-width="0.9" />
<text x="32.20" y="315.65" font-size="9.5" fill="#111" stroke="#111" stroke-width="0.45" text-anchor="end" font-weight="bold" >−1.0</text>
<line x1="34.00" y1="339.25" x2="36.50" y2="339.25" stroke="#2e2e2e" stroke-width="0.9" />
<text x="32.20" y="342.20" font-size="9.5" fill="#111" stroke="#111" stroke-width="0.45" text-anchor="end" font-weight="bold" >−2.0</text>
<line x1="35.10" y1="219.78" x2="36.50" y2="219.78" stroke="#2e2e2e" stroke-width="0.8" />
<line x1="35.10" y1="246.32" x2="36.50" y2="246.32" stroke="#2e2e2e" stroke-width="0.8" />
<line x1="35.10" y1="272.88" x2="36.50" y2="272.88" stroke="#2e2e2e" stroke-width="0.8" />
<line x1="35.10" y1="299.43" x2="36.50" y2="299.43" stroke="#2e2e2e" stroke-width="0.8" />
<line x1="35.10" y1="325.98" x2="36.50" y2="325.98" stroke="#2e2e2e" stroke-width="0.8" />
<line x1="52.40" y1="351.50" x2="52.40" y2="354.10" stroke="#2e2e2e" stroke-width="0.9" />
<text x="52.40" y="364.30" font-size="9.5" fill="#111" stroke="#111" stroke-width="0.45" text-anchor="middle" font-weight="bold" >1.5</text>
<line x1="82.45" y1="351.50" x2="82.45" y2="354.10" stroke="#2e2e2e" stroke-width="0.9" />
<text x="82.45" y="364.30" font-size="9.5" fill="#111" stroke="#111" stroke-width="0.45" text-anchor="middle" font-weight="bold" >1.6</text>
<line x1="112.50" y1="351.50" x2="112.50" y2="354.10" stroke="#2e2e2e" stroke-width="0.9" />
<text x="112.50" y="364.30" font-size="9.5" fill="#111" stroke="#111" stroke-width="0.45" text-anchor="middle" font-weight="bold" >1.7</text>
<line x1="142.55" y1="351.50" x2="142.55" y2="354.10" stroke="#2e2e2e" stroke-width="0.9" />
<text x="142.55" y="364.30" font-size="9.5" fill="#111" stroke="#111" stroke-width="0.45" text-anchor="middle" font-weight="bold" >1.8</text>
<line x1="172.60" y1="351.50" x2="172.60" y2="354.10" stroke="#2e2e2e" stroke-width="0.9" />
<text x="172.60" y="364.30" font-size="9.5" fill="#111" stroke="#111" stroke-width="0.45" text-anchor="middle" font-weight="bold" >1.9</text>
<line x1="202.65" y1="351.50" x2="202.65" y2="354.10" stroke="#2e2e2e" stroke-width="0.9" />
<text x="202.65" y="364.30" font-size="9.5" fill="#111" stroke="#111" stroke-width="0.45" text-anchor="middle" font-weight="bold" >2.0</text>
<line x1="37.37" y1="351.50" x2="37.37" y2="353.10" stroke="#2e2e2e" stroke-width="0.8" />
<line x1="67.43" y1="351.50" x2="67.43" y2="353.10" stroke="#2e2e2e" stroke-width="0.8" />
<line x1="97.47" y1="351.50" x2="97.47" y2="353.10" stroke="#2e2e2e" stroke-width="0.8" />
<line x1="127.53" y1="351.50" x2="127.53" y2="353.10" stroke="#2e2e2e" stroke-width="0.8" />
<line x1="157.58" y1="351.50" x2="157.58" y2="353.10" stroke="#2e2e2e" stroke-width="0.8" />
<line x1="187.62" y1="351.50" x2="187.62" y2="353.10" stroke="#2e2e2e" stroke-width="0.8" />
<line x1="217.67" y1="351.50" x2="217.67" y2="353.10" stroke="#2e2e2e" stroke-width="0.8" />
<text x="127.5" y="380.6" font-size="9.3" font-weight="bold" fill="#111" stroke="#111" stroke-width="0.45" text-anchor="middle">1000/T (k<tspan font-size="6" dy="-3.4">-1</tspan><tspan dy="3.4">)</tspan></text>
<text transform="translate(8.9,277.4) rotate(-90)" font-size="9.5" font-weight="bold" fill="#111" stroke="#111" stroke-width="0.45" text-anchor="middle">Ln r<tspan font-size="6.2" dy="2">CH4</tspan><tspan dy="-2"> (mmol g</tspan><tspan font-size="6.2" dy="2">cat</tspan><tspan font-size="6.2" dy="-5.6">-1</tspan><tspan dy="3.6"> h</tspan><tspan font-size="6.2" dy="-3.6">-1</tspan><tspan dy="3.6">)</tspan></text>
<path d="M46.90,243.87 L135.00,328.42" fill="none" stroke="#4A78A8" stroke-width="1.6" stroke-dasharray="5.5,2.6,1.6,2.7"/>
<path d="M106.80,229.68 L198.50,303.95" fill="none" stroke="#B03A78" stroke-width="1.6" stroke-dasharray="5.5,2.6,1.6,2.7"/>
<path d="M106.50,217.47 L197.00,282.82" fill="none" stroke="#D9A93A" stroke-width="1.6" stroke-dasharray="5.5,2.6,1.6,2.7"/>
<polygon points="47.40,246.65 44.00,252.57 50.80,252.57" fill="#4A78A8"/>
<polygon points="83.70,270.05 80.30,275.97 87.10,275.97" fill="#4A78A8"/>
<polygon points="107.60,290.15 104.20,296.07 111.00,296.07" fill="#4A78A8"/>
<polygon points="134.40,332.45 131.00,338.37 137.80,338.37" fill="#4A78A8"/>
<circle cx="107.50" cy="233.50" r="2.95" fill="#B03A78" stroke="none" stroke-width="0.5" />
<circle cx="134.80" cy="249.50" r="2.95" fill="#B03A78" stroke="none" stroke-width="0.5" />
<circle cx="164.30" cy="272.90" r="2.95" fill="#B03A78" stroke="none" stroke-width="0.5" />
<circle cx="198.50" cy="306.90" r="2.95" fill="#B03A78" stroke="none" stroke-width="0.5" />
<rect x="104.95" y="219.45" width="5.10" height="5.10" fill="#D9A93A" stroke="none" stroke-width="1" />
<rect x="132.25" y="231.85" width="5.10" height="5.10" fill="#D9A93A" stroke="none" stroke-width="1" />
<rect x="161.75" y="253.05" width="5.10" height="5.10" fill="#D9A93A" stroke="none" stroke-width="1" />
<rect x="195.95" y="284.65" width="5.10" height="5.10" fill="#D9A93A" stroke="none" stroke-width="1" />
<polygon points="165.20,211.21 161.95,216.86 168.45,216.86" fill="#4A78A8"/>
<circle cx="165.10" cy="227.40" r="3.20" fill="#B03A78" stroke="none" stroke-width="0.5" />
<rect x="163.80" y="237.30" width="4.80" height="4.80" fill="#D9A93A" stroke="none" stroke-width="1" />
<text x="177.1" y="217.7" font-size="8.1" font-weight="bold" fill="#4A78A8" stroke="#4A78A8" stroke-width="0.38">Ni/TiO<tspan font-size="5.4" dy="1.9">2</tspan><tspan dy="-1.9">-R</tspan></text>
<text x="177.1" y="230.2" font-size="8.1" font-weight="bold" fill="#B03A78" stroke="#B03A78" stroke-width="0.38">Ni/TiO<tspan font-size="5.4" dy="1.9">2</tspan><tspan dy="-1.9">-B</tspan></text>
<text x="177.1" y="242.6" font-size="8.1" font-weight="bold" fill="#D9A93A" stroke="#D9A93A" stroke-width="0.38">Ni/TiO<tspan font-size="5.4" dy="1.9">2</tspan><tspan dy="-1.9">-S</tspan></text>
<text x="41.4" y="322.50" font-size="8.45" font-weight="bold" fill="#4A78A8" stroke="#4A78A8" stroke-width="0.38">Ea = 90.0 kJ mol<tspan font-size="5.6" dy="-3.2">-1</tspan></text>
<text x="41.4" y="334.40" font-size="8.45" font-weight="bold" fill="#B03A78" stroke="#B03A78" stroke-width="0.38">Ea = 75.4 kJ mol<tspan font-size="5.6" dy="-3.2">-1</tspan></text>
<text x="41.4" y="346.30" font-size="8.45" font-weight="bold" fill="#D9A93A" stroke="#D9A93A" stroke-width="0.38">Ea = 67.4 kJ mol<tspan font-size="5.6" dy="-3.2">-1</tspan></text>
<line x1="253.70" y1="206.50" x2="437.50" y2="206.50" stroke="#2e2e2e" stroke-width="1" />
<line x1="437.50" y1="206.50" x2="437.50" y2="351.50" stroke="#2e2e2e" stroke-width="1" />
<line x1="255.50" y1="351.50" x2="438.00" y2="351.50" stroke="#3a3a3a" stroke-width="1.2" />
<line x1="256.50" y1="206.50" x2="256.50" y2="351.50" stroke="#3a3a3a" stroke-width="1.2" />
<text x="230.90" y="195.10" font-size="10.6" fill="#1a1414" stroke="#1a1414" stroke-width="0.45" text-anchor="start" font-weight="bold" >e</text>
<line x1="254.00" y1="206.50" x2="256.50" y2="206.50" stroke="#2e2e2e" stroke-width="0.9" />
<text x="252.20" y="209.45" font-size="9.5" fill="#111" stroke="#111" stroke-width="0.45" text-anchor="end" font-weight="bold" >2.0</text>
<line x1="254.00" y1="235.48" x2="256.50" y2="235.48" stroke="#2e2e2e" stroke-width="0.9" />
<text x="252.20" y="238.43" font-size="9.5" fill="#111" stroke="#111" stroke-width="0.45" text-anchor="end" font-weight="bold" >1.0</text>
<line x1="254.00" y1="264.46" x2="256.50" y2="264.46" stroke="#2e2e2e" stroke-width="0.9" />
<text x="252.20" y="267.41" font-size="9.5" fill="#111" stroke="#111" stroke-width="0.45" text-anchor="end" font-weight="bold" >0.0</text>
<line x1="254.00" y1="293.44" x2="256.50" y2="293.44" stroke="#2e2e2e" stroke-width="0.9" />
<text x="252.20" y="296.39" font-size="9.5" fill="#111" stroke="#111" stroke-width="0.45" text-anchor="end" font-weight="bold" >−1.0</text>
<line x1="254.00" y1="322.42" x2="256.50" y2="322.42" stroke="#2e2e2e" stroke-width="0.9" />
<text x="252.20" y="325.37" font-size="9.5" fill="#111" stroke="#111" stroke-width="0.45" text-anchor="end" font-weight="bold" >−2.0</text>
<line x1="254.00" y1="351.40" x2="256.50" y2="351.40" stroke="#2e2e2e" stroke-width="0.9" />
<text x="252.20" y="354.35" font-size="9.5" fill="#111" stroke="#111" stroke-width="0.45" text-anchor="end" font-weight="bold" >−3.0</text>
<line x1="255.10" y1="220.99" x2="256.50" y2="220.99" stroke="#2e2e2e" stroke-width="0.8" />
<line x1="255.10" y1="249.97" x2="256.50" y2="249.97" stroke="#2e2e2e" stroke-width="0.8" />
<line x1="255.10" y1="278.95" x2="256.50" y2="278.95" stroke="#2e2e2e" stroke-width="0.8" />
<line x1="255.10" y1="307.93" x2="256.50" y2="307.93" stroke="#2e2e2e" stroke-width="0.8" />
<line x1="255.10" y1="336.91" x2="256.50" y2="336.91" stroke="#2e2e2e" stroke-width="0.8" />
<line x1="271.90" y1="351.50" x2="271.90" y2="354.10" stroke="#2e2e2e" stroke-width="0.9" />
<text x="271.90" y="364.30" font-size="9.5" fill="#111" stroke="#111" stroke-width="0.45" text-anchor="middle" font-weight="bold" >1.6</text>
<line x1="302.00" y1="351.50" x2="302.00" y2="354.10" stroke="#2e2e2e" stroke-width="0.9" />
<text x="302.00" y="364.30" font-size="9.5" fill="#111" stroke="#111" stroke-width="0.45" text-anchor="middle" font-weight="bold" >1.7</text>
<line x1="332.10" y1="351.50" x2="332.10" y2="354.10" stroke="#2e2e2e" stroke-width="0.9" />
<text x="332.10" y="364.30" font-size="9.5" fill="#111" stroke="#111" stroke-width="0.45" text-anchor="middle" font-weight="bold" >1.8</text>
<line x1="362.20" y1="351.50" x2="362.20" y2="354.10" stroke="#2e2e2e" stroke-width="0.9" />
<text x="362.20" y="364.30" font-size="9.5" fill="#111" stroke="#111" stroke-width="0.45" text-anchor="middle" font-weight="bold" >1.9</text>
<line x1="392.30" y1="351.50" x2="392.30" y2="354.10" stroke="#2e2e2e" stroke-width="0.9" />
<text x="392.30" y="364.30" font-size="9.5" fill="#111" stroke="#111" stroke-width="0.45" text-anchor="middle" font-weight="bold" >2.0</text>
<line x1="422.40" y1="351.50" x2="422.40" y2="354.10" stroke="#2e2e2e" stroke-width="0.9" />
<text x="422.40" y="364.30" font-size="9.5" fill="#111" stroke="#111" stroke-width="0.45" text-anchor="middle" font-weight="bold" >2.1</text>
<line x1="256.85" y1="351.50" x2="256.85" y2="353.10" stroke="#2e2e2e" stroke-width="0.8" />
<line x1="286.95" y1="351.50" x2="286.95" y2="353.10" stroke="#2e2e2e" stroke-width="0.8" />
<line x1="317.05" y1="351.50" x2="317.05" y2="353.10" stroke="#2e2e2e" stroke-width="0.8" />
<line x1="347.15" y1="351.50" x2="347.15" y2="353.10" stroke="#2e2e2e" stroke-width="0.8" />
<line x1="377.25" y1="351.50" x2="377.25" y2="353.10" stroke="#2e2e2e" stroke-width="0.8" />
<line x1="407.35" y1="351.50" x2="407.35" y2="353.10" stroke="#2e2e2e" stroke-width="0.8" />
<line x1="437.45" y1="351.50" x2="437.45" y2="353.10" stroke="#2e2e2e" stroke-width="0.8" />
<text x="347.5" y="380.6" font-size="9.3" font-weight="bold" fill="#111" stroke="#111" stroke-width="0.45" text-anchor="middle">1000/T (k<tspan font-size="6" dy="-3.4">-1</tspan><tspan dy="3.4">)</tspan></text>
<text transform="translate(228.9,277.4) rotate(-90)" font-size="9.5" font-weight="bold" fill="#111" stroke="#111" stroke-width="0.45" text-anchor="middle">Ln r<tspan font-size="6.2" dy="2">CO</tspan><tspan dy="-2"> (mmol g</tspan><tspan font-size="6.2" dy="2">cat</tspan><tspan font-size="6.2" dy="-5.6">-1</tspan><tspan dy="3.6"> h</tspan><tspan font-size="6.2" dy="-3.6">-1</tspan><tspan dy="3.6">)</tspan></text>
<path d="M272.50,223.20 L353.50,318.33" fill="none" stroke="#D9A93A" stroke-width="1.6" stroke-dasharray="5.5,2.6,1.6,2.7"/>
<path d="M324.00,245.12 L427.50,342.54" fill="none" stroke="#B03A78" stroke-width="1.6" stroke-dasharray="5.5,2.6,1.6,2.7"/>
<path d="M324.00,262.14 L425.50,345.52" fill="none" stroke="#4A78A8" stroke-width="1.6" stroke-dasharray="5.5,2.6,1.6,2.7"/>
<rect x="270.65" y="224.35" width="5.10" height="5.10" fill="#D9A93A" stroke="none" stroke-width="1" />
<rect x="294.45" y="245.25" width="5.10" height="5.10" fill="#D9A93A" stroke="none" stroke-width="1" />
<rect x="322.05" y="282.05" width="5.10" height="5.10" fill="#D9A93A" stroke="none" stroke-width="1" />
<rect x="351.95" y="318.05" width="5.10" height="5.10" fill="#D9A93A" stroke="none" stroke-width="1" />
<circle cx="324.60" cy="245.30" r="2.95" fill="#B03A78" stroke="none" stroke-width="0.5" />
<circle cx="354.70" cy="273.40" r="2.95" fill="#B03A78" stroke="none" stroke-width="0.5" />
<circle cx="388.60" cy="308.10" r="2.95" fill="#B03A78" stroke="none" stroke-width="0.5" />
<circle cx="426.70" cy="340.60" r="2.95" fill="#B03A78" stroke="none" stroke-width="0.5" />
<polygon points="324.60,256.55 321.20,262.47 328.00,262.47" fill="#4A78A8"/>
<polygon points="354.70,285.05 351.30,290.97 358.10,290.97" fill="#4A78A8"/>
<polygon points="388.60,316.25 385.20,322.17 392.00,322.17" fill="#4A78A8"/>
<polygon points="425.10,338.35 421.70,344.27 428.50,344.27" fill="#4A78A8"/>
<rect x="382.80" y="212.80" width="4.80" height="4.80" fill="#D9A93A" stroke="none" stroke-width="1" />
<circle cx="385.20" cy="227.70" r="3.20" fill="#B03A78" stroke="none" stroke-width="0.5" />
<polygon points="385.20,236.91 381.95,242.56 388.45,242.56" fill="#4A78A8"/>
<text x="397.7" y="218.5" font-size="8.1" font-weight="bold" fill="#D9A93A" stroke="#D9A93A" stroke-width="0.38">Ni/TiO<tspan font-size="5.4" dy="1.9">2</tspan><tspan dy="-1.9">-S</tspan></text>
<text x="397.7" y="230.8" font-size="8.1" font-weight="bold" fill="#B03A78" stroke="#B03A78" stroke-width="0.38">Ni/TiO<tspan font-size="5.4" dy="1.9">2</tspan><tspan dy="-1.9">-B</tspan></text>
<text x="397.7" y="243.1" font-size="8.1" font-weight="bold" fill="#4A78A8" stroke="#4A78A8" stroke-width="0.38">Ni/TiO<tspan font-size="5.4" dy="1.9">2</tspan><tspan dy="-1.9">-R</tspan></text>
<text x="261.6" y="323.10" font-size="8.45" font-weight="bold" fill="#D9A93A" stroke="#D9A93A" stroke-width="0.38">Ea = 100.3 kJ mol<tspan font-size="5.6" dy="-3.2">-1</tspan></text>
<text x="261.6" y="334.90" font-size="8.45" font-weight="bold" fill="#B03A78" stroke="#B03A78" stroke-width="0.38">Ea = 80.7 kJ mol<tspan font-size="5.6" dy="-3.2">-1</tspan></text>
<text x="261.6" y="346.70" font-size="8.45" font-weight="bold" fill="#4A78A8" stroke="#4A78A8" stroke-width="0.38">Ea = 68.1 kJ mol<tspan font-size="5.6" dy="-3.2">-1</tspan></text>
<line x1="476.50" y1="206.50" x2="657.00" y2="206.50" stroke="#2e2e2e" stroke-width="1" />
<line x1="476.50" y1="206.50" x2="476.50" y2="347.00" stroke="#333" stroke-width="1.1" />
<line x1="657.00" y1="206.50" x2="657.00" y2="345.50" stroke="#333" stroke-width="1.1" />
<line x1="473.50" y1="351.90" x2="659.00" y2="351.90" stroke="#3a3a3a" stroke-width="1.2" />
<line x1="657.00" y1="349.50" x2="657.00" y2="351.90" stroke="#333" stroke-width="1.1" />
<line x1="473.30" y1="348.40" x2="479.60" y2="345.80" stroke="#222" stroke-width="0.9" />
<line x1="473.30" y1="351.60" x2="479.60" y2="349.00" stroke="#222" stroke-width="0.9" />
<line x1="653.80" y1="348.40" x2="660.10" y2="345.80" stroke="#222" stroke-width="0.9" />
<line x1="653.80" y1="351.60" x2="660.10" y2="349.00" stroke="#222" stroke-width="0.9" />
<text x="448.60" y="195.10" font-size="10.6" fill="#1a1414" stroke="#1a1414" stroke-width="0.45" text-anchor="start" font-weight="bold" >f</text>
<line x1="473.90" y1="206.50" x2="476.50" y2="206.50" stroke="#2e2e2e" stroke-width="0.9" />
<text x="472.50" y="209.80" font-size="9.5" fill="#111" stroke="#111" stroke-width="0.45" text-anchor="end" font-weight="bold" >94</text>
<line x1="473.90" y1="224.18" x2="476.50" y2="224.18" stroke="#2e2e2e" stroke-width="0.9" />
<text x="472.50" y="227.48" font-size="9.5" fill="#111" stroke="#111" stroke-width="0.45" text-anchor="end" font-weight="bold" >92</text>
<line x1="473.90" y1="241.86" x2="476.50" y2="241.86" stroke="#2e2e2e" stroke-width="0.9" />
<text x="472.50" y="245.16" font-size="9.5" fill="#111" stroke="#111" stroke-width="0.45" text-anchor="end" font-weight="bold" >90</text>
<line x1="473.90" y1="259.54" x2="476.50" y2="259.54" stroke="#2e2e2e" stroke-width="0.9" />
<text x="472.50" y="262.84" font-size="9.5" fill="#111" stroke="#111" stroke-width="0.45" text-anchor="end" font-weight="bold" >88</text>
<line x1="473.90" y1="277.22" x2="476.50" y2="277.22" stroke="#2e2e2e" stroke-width="0.9" />
<text x="472.50" y="280.52" font-size="9.5" fill="#111" stroke="#111" stroke-width="0.45" text-anchor="end" font-weight="bold" >86</text>
<line x1="473.90" y1="294.90" x2="476.50" y2="294.90" stroke="#2e2e2e" stroke-width="0.9" />
<text x="472.50" y="298.20" font-size="9.5" fill="#111" stroke="#111" stroke-width="0.45" text-anchor="end" font-weight="bold" >84</text>
<line x1="473.90" y1="312.58" x2="476.50" y2="312.58" stroke="#2e2e2e" stroke-width="0.9" />
<text x="472.50" y="315.88" font-size="9.5" fill="#111" stroke="#111" stroke-width="0.45" text-anchor="end" font-weight="bold" >82</text>
<line x1="473.90" y1="330.26" x2="476.50" y2="330.26" stroke="#2e2e2e" stroke-width="0.9" />
<text x="472.50" y="333.56" font-size="9.5" fill="#111" stroke="#111" stroke-width="0.45" text-anchor="end" font-weight="bold" >80</text>
<text x="472.50" y="355.10" font-size="9.5" fill="#111" stroke="#111" stroke-width="0.45" text-anchor="end" font-weight="bold" >0</text>
<line x1="657.00" y1="332.30" x2="659.60" y2="332.30" stroke="#2e2e2e" stroke-width="0.9" />
<text x="661.30" y="335.60" font-size="9.5" fill="#111" stroke="#111" stroke-width="0.45" text-anchor="start" font-weight="bold" >21</text>
<line x1="657.00" y1="318.30" x2="659.60" y2="318.30" stroke="#2e2e2e" stroke-width="0.9" />
<text x="661.30" y="321.60" font-size="9.5" fill="#111" stroke="#111" stroke-width="0.45" text-anchor="start" font-weight="bold" >22</text>
<line x1="657.00" y1="304.30" x2="659.60" y2="304.30" stroke="#2e2e2e" stroke-width="0.9" />
<text x="661.30" y="307.60" font-size="9.5" fill="#111" stroke="#111" stroke-width="0.45" text-anchor="start" font-weight="bold" >23</text>
<line x1="657.00" y1="290.30" x2="659.60" y2="290.30" stroke="#2e2e2e" stroke-width="0.9" />
<text x="661.30" y="293.60" font-size="9.5" fill="#111" stroke="#111" stroke-width="0.45" text-anchor="start" font-weight="bold" >24</text>
<line x1="657.00" y1="276.30" x2="659.60" y2="276.30" stroke="#2e2e2e" stroke-width="0.9" />
<text x="661.30" y="279.60" font-size="9.5" fill="#111" stroke="#111" stroke-width="0.45" text-anchor="start" font-weight="bold" >25</text>
<line x1="657.00" y1="262.30" x2="659.60" y2="262.30" stroke="#2e2e2e" stroke-width="0.9" />
<text x="661.30" y="265.60" font-size="9.5" fill="#111" stroke="#111" stroke-width="0.45" text-anchor="start" font-weight="bold" >26</text>
<line x1="657.00" y1="248.30" x2="659.60" y2="248.30" stroke="#2e2e2e" stroke-width="0.9" />
<text x="661.30" y="251.60" font-size="9.5" fill="#111" stroke="#111" stroke-width="0.45" text-anchor="start" font-weight="bold" >27</text>
<line x1="657.00" y1="234.30" x2="659.60" y2="234.30" stroke="#2e2e2e" stroke-width="0.9" />
<text x="661.30" y="237.60" font-size="9.5" fill="#111" stroke="#111" stroke-width="0.45" text-anchor="start" font-weight="bold" >28</text>
<line x1="657.00" y1="220.30" x2="659.60" y2="220.30" stroke="#2e2e2e" stroke-width="0.9" />
<text x="661.30" y="223.60" font-size="9.5" fill="#111" stroke="#111" stroke-width="0.45" text-anchor="start" font-weight="bold" >29</text>
<line x1="657.00" y1="206.30" x2="659.60" y2="206.30" stroke="#2e2e2e" stroke-width="0.9" />
<text x="661.30" y="209.60" font-size="9.5" fill="#111" stroke="#111" stroke-width="0.45" text-anchor="start" font-weight="bold" >30</text>
<text x="661.30" y="355.10" font-size="9.5" fill="#111" stroke="#111" stroke-width="0.45" text-anchor="start" font-weight="bold" >0</text>
<line x1="476.50" y1="351.90" x2="476.50" y2="354.70" stroke="#2e2e2e" stroke-width="0.9" />
<text x="476.50" y="364.20" font-size="9.5" fill="#111" stroke="#111" stroke-width="0.45" text-anchor="middle" font-weight="bold" >0</text>
<line x1="494.50" y1="351.90" x2="494.50" y2="354.70" stroke="#2e2e2e" stroke-width="0.9" />
<text x="494.50" y="364.20" font-size="9.5" fill="#111" stroke="#111" stroke-width="0.45" text-anchor="middle" font-weight="bold" >10</text>
<line x1="512.50" y1="351.90" x2="512.50" y2="354.70" stroke="#2e2e2e" stroke-width="0.9" />
<text x="512.50" y="364.20" font-size="9.5" fill="#111" stroke="#111" stroke-width="0.45" text-anchor="middle" font-weight="bold" >20</text>
<line x1="530.50" y1="351.90" x2="530.50" y2="354.70" stroke="#2e2e2e" stroke-width="0.9" />
<text x="530.50" y="364.20" font-size="9.5" fill="#111" stroke="#111" stroke-width="0.45" text-anchor="middle" font-weight="bold" >30</text>
<line x1="548.50" y1="351.90" x2="548.50" y2="354.70" stroke="#2e2e2e" stroke-width="0.9" />
<text x="548.50" y="364.20" font-size="9.5" fill="#111" stroke="#111" stroke-width="0.45" text-anchor="middle" font-weight="bold" >40</text>
<line x1="566.50" y1="351.90" x2="566.50" y2="354.70" stroke="#2e2e2e" stroke-width="0.9" />
<text x="566.50" y="364.20" font-size="9.5" fill="#111" stroke="#111" stroke-width="0.45" text-anchor="middle" font-weight="bold" >50</text>
<line x1="584.50" y1="351.90" x2="584.50" y2="354.70" stroke="#2e2e2e" stroke-width="0.9" />
<text x="584.50" y="364.20" font-size="9.5" fill="#111" stroke="#111" stroke-width="0.45" text-anchor="middle" font-weight="bold" >60</text>
<line x1="602.50" y1="351.90" x2="602.50" y2="354.70" stroke="#2e2e2e" stroke-width="0.9" />
<text x="602.50" y="364.20" font-size="9.5" fill="#111" stroke="#111" stroke-width="0.45" text-anchor="middle" font-weight="bold" >70</text>
<line x1="620.50" y1="351.90" x2="620.50" y2="354.70" stroke="#2e2e2e" stroke-width="0.9" />
<text x="620.50" y="364.20" font-size="9.5" fill="#111" stroke="#111" stroke-width="0.45" text-anchor="middle" font-weight="bold" >80</text>
<line x1="638.50" y1="351.90" x2="638.50" y2="354.70" stroke="#2e2e2e" stroke-width="0.9" />
<text x="638.50" y="364.20" font-size="9.5" fill="#111" stroke="#111" stroke-width="0.45" text-anchor="middle" font-weight="bold" >90</text>
<line x1="656.50" y1="351.90" x2="656.50" y2="354.70" stroke="#2e2e2e" stroke-width="0.9" />
<text x="656.50" y="364.20" font-size="9.5" fill="#111" stroke="#111" stroke-width="0.45" text-anchor="middle" font-weight="bold" >100</text>
<text x="567.20" y="380.60" font-size="9.3" fill="#111" stroke="#111" stroke-width="0.45" text-anchor="middle" font-weight="bold" >Time on Stream (h)</text>
<text transform="translate(456.3,279) rotate(-90)" font-size="9.3" font-weight="bold" fill="#111" stroke="#111" stroke-width="0.45" text-anchor="middle">CH<tspan font-size="6.2" dy="2">4</tspan><tspan dy="-2"> Selectivity (%)</tspan></text>
<text transform="translate(682.3,280.7) rotate(-90)" font-size="9.3" font-weight="bold" fill="#111" stroke="#111" stroke-width="0.45" text-anchor="middle">CO<tspan font-size="6.2" dy="2">2</tspan><tspan dy="-2"> Conversion (%)</tspan></text>
<line x1="476.90" y1="295.90" x2="655.00" y2="295.90" stroke="#925858" stroke-width="1.6" stroke-dasharray="7.2,2.7,2.0,3.5"/>
<text x="523.10" y="291.60" font-size="8.2" fill="#8E5454" stroke="#8E5454" stroke-width="0.38" text-anchor="start" font-weight="bold" >Reaction Equilibrium</text>
<line x1="492.00" y1="243.30" x2="507.70" y2="243.30" stroke="#3F6A96" stroke-width="1.8" />
<polygon points="488.4,243.3 494.6,240.6 494.6,246.0" fill="#3F6A96"/>
<line x1="607.80" y1="288.50" x2="635.00" y2="288.50" stroke="#7E4B4B" stroke-width="1.8" />
<polygon points="639.3,288.5 633.0,285.8 633.0,291.2" fill="#7E4B4B"/>
<line x1="620.00" y1="314.70" x2="643.00" y2="314.70" stroke="#D0B2AB" stroke-width="1.8" />
<polygon points="647.2,314.7 641.0,312.0 641.0,317.4" fill="#CBAAA3"/>
<circle cx="485.90" cy="212.60" r="1.90" fill="#A3B9D1" stroke="#7C97B5" stroke-width="0.4" />
<text x="495.6" y="216.1" font-size="8.3" font-weight="bold" fill="#111" stroke="#111" stroke-width="0.38">CH<tspan font-size="5.6" dy="1.9">4</tspan><tspan dy="-1.9"> Selectivity</tspan></text>
<circle cx="579.60" cy="213.00" r="1.90" fill="#D8C1BB" stroke="#BC9F98" stroke-width="0.4" />
<text x="591.6" y="216.3" font-size="8.3" font-weight="bold" fill="#111" stroke="#111" stroke-width="0.38">CO<tspan font-size="5.6" dy="1.9">2</tspan><tspan dy="-1.9"> Conversion</tspan></text>
<circle cx="477.20" cy="254.10" r="1.65" fill="#A3B9D1" stroke="#7C97B5" stroke-width="0.45" />
<circle cx="477.50" cy="264.31" r="1.65" fill="#A3B9D1" stroke="#7C97B5" stroke-width="0.45" />
<circle cx="478.20" cy="265.92" r="1.65" fill="#A3B9D1" stroke="#7C97B5" stroke-width="0.45" />
<circle cx="478.90" cy="265.06" r="1.65" fill="#A3B9D1" stroke="#7C97B5" stroke-width="0.45" />
<circle cx="479.60" cy="262.44" r="1.65" fill="#A3B9D1" stroke="#7C97B5" stroke-width="0.45" />
<circle cx="480.30" cy="262.88" r="1.65" fill="#A3B9D1" stroke="#7C97B5" stroke-width="0.45" />
<circle cx="481.00" cy="264.19" r="1.65" fill="#A3B9D1" stroke="#7C97B5" stroke-width="0.45" />
<circle cx="481.70" cy="261.05" r="1.65" fill="#A3B9D1" stroke="#7C97B5" stroke-width="0.45" />
<circle cx="482.40" cy="263.11" r="1.65" fill="#A3B9D1" stroke="#7C97B5" stroke-width="0.45" />
<circle cx="483.10" cy="261.66" r="1.65" fill="#A3B9D1" stroke="#7C97B5" stroke-width="0.45" />
<circle cx="483.80" cy="261.37" r="1.65" fill="#A3B9D1" stroke="#7C97B5" stroke-width="0.45" />
<circle cx="484.50" cy="261.05" r="1.65" fill="#A3B9D1" stroke="#7C97B5" stroke-width="0.45" />
<circle cx="485.20" cy="264.41" r="1.65" fill="#A3B9D1" stroke="#7C97B5" stroke-width="0.45" />
<circle cx="485.90" cy="261.30" r="1.65" fill="#A3B9D1" stroke="#7C97B5" stroke-width="0.45" />
<circle cx="486.60" cy="261.82" r="1.65" fill="#A3B9D1" stroke="#7C97B5" stroke-width="0.45" />
<circle cx="487.30" cy="262.47" r="1.65" fill="#A3B9D1" stroke="#7C97B5" stroke-width="0.45" />
<circle cx="488.00" cy="264.73" r="1.65" fill="#A3B9D1" stroke="#7C97B5" stroke-width="0.45" />
<circle cx="488.70" cy="260.89" r="1.65" fill="#A3B9D1" stroke="#7C97B5" stroke-width="0.45" />
<circle cx="489.40" cy="262.62" r="1.65" fill="#A3B9D1" stroke="#7C97B5" stroke-width="0.45" />
<circle cx="490.10" cy="263.05" r="1.65" fill="#A3B9D1" stroke="#7C97B5" stroke-width="0.45" />
<circle cx="490.80" cy="264.61" r="1.65" fill="#A3B9D1" stroke="#7C97B5" stroke-width="0.45" />
<circle cx="491.50" cy="264.26" r="1.65" fill="#A3B9D1" stroke="#7C97B5" stroke-width="0.45" />
<circle cx="492.20" cy="264.43" r="1.65" fill="#A3B9D1" stroke="#7C97B5" stroke-width="0.45" />
<circle cx="492.90" cy="261.58" r="1.65" fill="#A3B9D1" stroke="#7C97B5" stroke-width="0.45" />
<circle cx="493.60" cy="262.19" r="1.65" fill="#A3B9D1" stroke="#7C97B5" stroke-width="0.45" />
<circle cx="494.30" cy="261.88" r="1.65" fill="#A3B9D1" stroke="#7C97B5" stroke-width="0.45" />
<circle cx="495.00" cy="264.36" r="1.65" fill="#A3B9D1" stroke="#7C97B5" stroke-width="0.45" />
<circle cx="495.70" cy="264.66" r="1.65" fill="#A3B9D1" stroke="#7C97B5" stroke-width="0.45" />
<circle cx="496.40" cy="260.75" r="1.65" fill="#A3B9D1" stroke="#7C97B5" stroke-width="0.45" />
<circle cx="497.10" cy="260.83" r="1.65" fill="#A3B9D1" stroke="#7C97B5" stroke-width="0.45" />
<circle cx="497.80" cy="261.05" r="1.65" fill="#A3B9D1" stroke="#7C97B5" stroke-width="0.45" />
<circle cx="498.50" cy="261.01" r="1.65" fill="#A3B9D1" stroke="#7C97B5" stroke-width="0.45" />
<circle cx="499.20" cy="262.18" r="1.65" fill="#A3B9D1" stroke="#7C97B5" stroke-width="0.45" />
<circle cx="499.90" cy="262.63" r="1.65" fill="#A3B9D1" stroke="#7C97B5" stroke-width="0.45" />
<circle cx="500.00" cy="261.39" r="1.65" fill="#A3B9D1" stroke="#7C97B5" stroke-width="0.45" />
<circle cx="500.70" cy="260.44" r="1.65" fill="#A3B9D1" stroke="#7C97B5" stroke-width="0.45" />
<circle cx="501.40" cy="261.77" r="1.65" fill="#A3B9D1" stroke="#7C97B5" stroke-width="0.45" />
<circle cx="502.10" cy="261.53" r="1.65" fill="#A3B9D1" stroke="#7C97B5" stroke-width="0.45" />
<circle cx="502.80" cy="262.12" r="1.65" fill="#A3B9D1" stroke="#7C97B5" stroke-width="0.45" />
<circle cx="503.50" cy="263.36" r="1.65" fill="#A3B9D1" stroke="#7C97B5" stroke-width="0.45" />
<circle cx="504.20" cy="262.39" r="1.65" fill="#A3B9D1" stroke="#7C97B5" stroke-width="0.45" />
<circle cx="504.90" cy="261.72" r="1.65" fill="#A3B9D1" stroke="#7C97B5" stroke-width="0.45" />
<circle cx="505.60" cy="261.99" r="1.65" fill="#A3B9D1" stroke="#7C97B5" stroke-width="0.45" />
<circle cx="506.30" cy="262.11" r="1.65" fill="#A3B9D1" stroke="#7C97B5" stroke-width="0.45" />
<circle cx="507.00" cy="259.92" r="1.65" fill="#A3B9D1" stroke="#7C97B5" stroke-width="0.45" />
<circle cx="507.70" cy="262.72" r="1.65" fill="#A3B9D1" stroke="#7C97B5" stroke-width="0.45" />
<circle cx="508.40" cy="262.24" r="1.65" fill="#A3B9D1" stroke="#7C97B5" stroke-width="0.45" />
<circle cx="509.10" cy="262.48" r="1.65" fill="#A3B9D1" stroke="#7C97B5" stroke-width="0.45" />
<circle cx="509.80" cy="262.14" r="1.65" fill="#A3B9D1" stroke="#7C97B5" stroke-width="0.45" />
<circle cx="510.50" cy="260.69" r="1.65" fill="#A3B9D1" stroke="#7C97B5" stroke-width="0.45" />
<circle cx="488.50" cy="268.00" r="1.65" fill="#A3B9D1" stroke="#7C97B5" stroke-width="0.45" />
<circle cx="510.70" cy="234.40" r="1.65" fill="#A3B9D1" stroke="#7C97B5" stroke-width="0.45" />
<circle cx="510.90" cy="240.60" r="1.65" fill="#A3B9D1" stroke="#7C97B5" stroke-width="0.45" />
<circle cx="511.50" cy="245.00" r="1.65" fill="#A3B9D1" stroke="#7C97B5" stroke-width="0.45" />
<circle cx="512.20" cy="247.40" r="1.65" fill="#A3B9D1" stroke="#7C97B5" stroke-width="0.45" />
<circle cx="513.00" cy="249.40" r="1.65" fill="#A3B9D1" stroke="#7C97B5" stroke-width="0.45" />
<circle cx="514.30" cy="251.40" r="1.65" fill="#A3B9D1" stroke="#7C97B5" stroke-width="0.45" />
<circle cx="514.00" cy="253.24" r="1.65" fill="#A3B9D1" stroke="#7C97B5" stroke-width="0.45" />
<circle cx="514.80" cy="252.87" r="1.65" fill="#A3B9D1" stroke="#7C97B5" stroke-width="0.45" />
<circle cx="515.60" cy="254.65" r="1.65" fill="#A3B9D1" stroke="#7C97B5" stroke-width="0.45" />
<circle cx="516.40" cy="253.56" r="1.65" fill="#A3B9D1" stroke="#7C97B5" stroke-width="0.45" />
<circle cx="517.20" cy="253.98" r="1.65" fill="#A3B9D1" stroke="#7C97B5" stroke-width="0.45" />
<circle cx="518.00" cy="254.74" r="1.65" fill="#A3B9D1" stroke="#7C97B5" stroke-width="0.45" />
<circle cx="518.80" cy="255.02" r="1.65" fill="#A3B9D1" stroke="#7C97B5" stroke-width="0.45" />
<circle cx="519.60" cy="255.88" r="1.65" fill="#A3B9D1" stroke="#7C97B5" stroke-width="0.45" />
<circle cx="520.40" cy="255.54" r="1.65" fill="#A3B9D1" stroke="#7C97B5" stroke-width="0.45" />
<circle cx="521.20" cy="255.80" r="1.65" fill="#A3B9D1" stroke="#7C97B5" stroke-width="0.45" />
<circle cx="522.00" cy="256.59" r="1.65" fill="#A3B9D1" stroke="#7C97B5" stroke-width="0.45" />
<circle cx="522.80" cy="256.86" r="1.65" fill="#A3B9D1" stroke="#7C97B5" stroke-width="0.45" />
<circle cx="522.00" cy="260.42" r="1.65" fill="#A3B9D1" stroke="#7C97B5" stroke-width="0.45" />
<circle cx="522.80" cy="259.47" r="1.65" fill="#A3B9D1" stroke="#7C97B5" stroke-width="0.45" />
<circle cx="523.60" cy="261.85" r="1.65" fill="#A3B9D1" stroke="#7C97B5" stroke-width="0.45" />
<circle cx="524.40" cy="261.12" r="1.65" fill="#A3B9D1" stroke="#7C97B5" stroke-width="0.45" />
<circle cx="525.20" cy="259.82" r="1.65" fill="#A3B9D1" stroke="#7C97B5" stroke-width="0.45" />
<circle cx="526.00" cy="260.11" r="1.65" fill="#A3B9D1" stroke="#7C97B5" stroke-width="0.45" />
<circle cx="526.80" cy="260.37" r="1.65" fill="#A3B9D1" stroke="#7C97B5" stroke-width="0.45" />
<circle cx="527.60" cy="260.42" r="1.65" fill="#A3B9D1" stroke="#7C97B5" stroke-width="0.45" />
<circle cx="528.40" cy="259.74" r="1.65" fill="#A3B9D1" stroke="#7C97B5" stroke-width="0.45" />
<circle cx="529.20" cy="261.78" r="1.65" fill="#A3B9D1" stroke="#7C97B5" stroke-width="0.45" />
<circle cx="530.00" cy="262.18" r="1.65" fill="#A3B9D1" stroke="#7C97B5" stroke-width="0.45" />
<circle cx="530.80" cy="260.70" r="1.65" fill="#A3B9D1" stroke="#7C97B5" stroke-width="0.45" />
<circle cx="531.60" cy="260.75" r="1.65" fill="#A3B9D1" stroke="#7C97B5" stroke-width="0.45" />
<circle cx="532.40" cy="259.64" r="1.65" fill="#A3B9D1" stroke="#7C97B5" stroke-width="0.45" />
<circle cx="533.20" cy="259.69" r="1.65" fill="#A3B9D1" stroke="#7C97B5" stroke-width="0.45" />
<circle cx="534.00" cy="260.36" r="1.65" fill="#A3B9D1" stroke="#7C97B5" stroke-width="0.45" />
<circle cx="534.80" cy="260.14" r="1.65" fill="#A3B9D1" stroke="#7C97B5" stroke-width="0.45" />
<circle cx="535.60" cy="261.72" r="1.65" fill="#A3B9D1" stroke="#7C97B5" stroke-width="0.45" />
<circle cx="536.40" cy="259.85" r="1.65" fill="#A3B9D1" stroke="#7C97B5" stroke-width="0.45" />
<circle cx="537.20" cy="259.46" r="1.65" fill="#A3B9D1" stroke="#7C97B5" stroke-width="0.45" />
<circle cx="538.00" cy="262.06" r="1.65" fill="#A3B9D1" stroke="#7C97B5" stroke-width="0.45" />
<circle cx="538.80" cy="260.88" r="1.65" fill="#A3B9D1" stroke="#7C97B5" stroke-width="0.45" />
<circle cx="539.10" cy="256.00" r="1.65" fill="#A3B9D1" stroke="#7C97B5" stroke-width="0.45" />
<circle cx="539.50" cy="250.59" r="1.65" fill="#A3B9D1" stroke="#7C97B5" stroke-width="0.45" />
<circle cx="540.30" cy="252.19" r="1.65" fill="#A3B9D1" stroke="#7C97B5" stroke-width="0.45" />
<circle cx="541.10" cy="250.14" r="1.65" fill="#A3B9D1" stroke="#7C97B5" stroke-width="0.45" />
<circle cx="541.90" cy="252.16" r="1.65" fill="#A3B9D1" stroke="#7C97B5" stroke-width="0.45" />
<circle cx="542.70" cy="253.97" r="1.65" fill="#A3B9D1" stroke="#7C97B5" stroke-width="0.45" />
<circle cx="543.50" cy="253.53" r="1.65" fill="#A3B9D1" stroke="#7C97B5" stroke-width="0.45" />
<circle cx="544.30" cy="252.87" r="1.65" fill="#A3B9D1" stroke="#7C97B5" stroke-width="0.45" />
<circle cx="545.10" cy="251.15" r="1.65" fill="#A3B9D1" stroke="#7C97B5" stroke-width="0.45" />
<circle cx="545.90" cy="251.58" r="1.65" fill="#A3B9D1" stroke="#7C97B5" stroke-width="0.45" />
<circle cx="546.70" cy="250.80" r="1.65" fill="#A3B9D1" stroke="#7C97B5" stroke-width="0.45" />
<circle cx="547.50" cy="253.23" r="1.65" fill="#A3B9D1" stroke="#7C97B5" stroke-width="0.45" />
<circle cx="548.30" cy="252.29" r="1.65" fill="#A3B9D1" stroke="#7C97B5" stroke-width="0.45" />
<circle cx="549.10" cy="253.29" r="1.65" fill="#A3B9D1" stroke="#7C97B5" stroke-width="0.45" />
<circle cx="549.90" cy="251.51" r="1.65" fill="#A3B9D1" stroke="#7C97B5" stroke-width="0.45" />
<circle cx="550.70" cy="251.10" r="1.65" fill="#A3B9D1" stroke="#7C97B5" stroke-width="0.45" />
<circle cx="551.50" cy="253.46" r="1.65" fill="#A3B9D1" stroke="#7C97B5" stroke-width="0.45" />
<circle cx="552.30" cy="254.17" r="1.65" fill="#A3B9D1" stroke="#7C97B5" stroke-width="0.45" />
<circle cx="553.10" cy="253.66" r="1.65" fill="#A3B9D1" stroke="#7C97B5" stroke-width="0.45" />
<circle cx="553.90" cy="253.49" r="1.65" fill="#A3B9D1" stroke="#7C97B5" stroke-width="0.45" />
<circle cx="554.70" cy="253.55" r="1.65" fill="#A3B9D1" stroke="#7C97B5" stroke-width="0.45" />
<circle cx="555.50" cy="253.25" r="1.65" fill="#A3B9D1" stroke="#7C97B5" stroke-width="0.45" />
<circle cx="547.50" cy="261.00" r="1.65" fill="#A3B9D1" stroke="#7C97B5" stroke-width="0.45" />
<circle cx="553.70" cy="261.00" r="1.65" fill="#A3B9D1" stroke="#7C97B5" stroke-width="0.45" />
<circle cx="556.00" cy="254.41" r="1.65" fill="#A3B9D1" stroke="#7C97B5" stroke-width="0.45" />
<circle cx="556.80" cy="255.70" r="1.65" fill="#A3B9D1" stroke="#7C97B5" stroke-width="0.45" />
<circle cx="557.60" cy="255.19" r="1.65" fill="#A3B9D1" stroke="#7C97B5" stroke-width="0.45" />
<circle cx="558.40" cy="254.02" r="1.65" fill="#A3B9D1" stroke="#7C97B5" stroke-width="0.45" />
<circle cx="559.20" cy="254.15" r="1.65" fill="#A3B9D1" stroke="#7C97B5" stroke-width="0.45" />
<circle cx="560.00" cy="255.28" r="1.65" fill="#A3B9D1" stroke="#7C97B5" stroke-width="0.45" />
<circle cx="560.80" cy="255.34" r="1.65" fill="#A3B9D1" stroke="#7C97B5" stroke-width="0.45" />
<circle cx="561.60" cy="257.20" r="1.65" fill="#A3B9D1" stroke="#7C97B5" stroke-width="0.45" />
<circle cx="562.40" cy="258.39" r="1.65" fill="#A3B9D1" stroke="#7C97B5" stroke-width="0.45" />
<circle cx="563.20" cy="256.49" r="1.65" fill="#A3B9D1" stroke="#7C97B5" stroke-width="0.45" />
<circle cx="564.00" cy="258.58" r="1.65" fill="#A3B9D1" stroke="#7C97B5" stroke-width="0.45" />
<circle cx="564.80" cy="258.92" r="1.65" fill="#A3B9D1" stroke="#7C97B5" stroke-width="0.45" />
<circle cx="565.00" cy="258.62" r="1.65" fill="#A3B9D1" stroke="#7C97B5" stroke-width="0.45" />
<circle cx="565.80" cy="256.26" r="1.65" fill="#A3B9D1" stroke="#7C97B5" stroke-width="0.45" />
<circle cx="566.60" cy="255.68" r="1.65" fill="#A3B9D1" stroke="#7C97B5" stroke-width="0.45" />
<circle cx="567.40" cy="255.71" r="1.65" fill="#A3B9D1" stroke="#7C97B5" stroke-width="0.45" />
<circle cx="568.20" cy="255.59" r="1.65" fill="#A3B9D1" stroke="#7C97B5" stroke-width="0.45" />
<circle cx="569.00" cy="255.62" r="1.65" fill="#A3B9D1" stroke="#7C97B5" stroke-width="0.45" />
<circle cx="569.80" cy="257.30" r="1.65" fill="#A3B9D1" stroke="#7C97B5" stroke-width="0.45" />
<circle cx="570.60" cy="258.40" r="1.65" fill="#A3B9D1" stroke="#7C97B5" stroke-width="0.45" />
<circle cx="571.40" cy="258.16" r="1.65" fill="#A3B9D1" stroke="#7C97B5" stroke-width="0.45" />
<circle cx="572.20" cy="256.72" r="1.65" fill="#A3B9D1" stroke="#7C97B5" stroke-width="0.45" />
<circle cx="573.00" cy="257.41" r="1.65" fill="#A3B9D1" stroke="#7C97B5" stroke-width="0.45" />
<circle cx="573.80" cy="258.00" r="1.65" fill="#A3B9D1" stroke="#7C97B5" stroke-width="0.45" />
<circle cx="574.60" cy="255.14" r="1.65" fill="#A3B9D1" stroke="#7C97B5" stroke-width="0.45" />
<circle cx="575.40" cy="257.44" r="1.65" fill="#A3B9D1" stroke="#7C97B5" stroke-width="0.45" />
<circle cx="576.20" cy="258.44" r="1.65" fill="#A3B9D1" stroke="#7C97B5" stroke-width="0.45" />
<circle cx="577.00" cy="257.93" r="1.65" fill="#A3B9D1" stroke="#7C97B5" stroke-width="0.45" />
<circle cx="577.80" cy="257.80" r="1.65" fill="#A3B9D1" stroke="#7C97B5" stroke-width="0.45" />
<circle cx="578.60" cy="256.71" r="1.65" fill="#A3B9D1" stroke="#7C97B5" stroke-width="0.45" />
<circle cx="579.40" cy="255.51" r="1.65" fill="#A3B9D1" stroke="#7C97B5" stroke-width="0.45" />
<circle cx="580.20" cy="257.96" r="1.65" fill="#A3B9D1" stroke="#7C97B5" stroke-width="0.45" />
<circle cx="581.00" cy="256.13" r="1.65" fill="#A3B9D1" stroke="#7C97B5" stroke-width="0.45" />
<circle cx="581.80" cy="258.00" r="1.65" fill="#A3B9D1" stroke="#7C97B5" stroke-width="0.45" />
<circle cx="583.00" cy="250.10" r="1.65" fill="#A3B9D1" stroke="#7C97B5" stroke-width="0.45" />
<circle cx="583.20" cy="252.30" r="1.65" fill="#A3B9D1" stroke="#7C97B5" stroke-width="0.45" />
<circle cx="582.00" cy="258.69" r="1.65" fill="#A3B9D1" stroke="#7C97B5" stroke-width="0.45" />
<circle cx="582.80" cy="256.40" r="1.65" fill="#A3B9D1" stroke="#7C97B5" stroke-width="0.45" />
<circle cx="583.60" cy="256.45" r="1.65" fill="#A3B9D1" stroke="#7C97B5" stroke-width="0.45" />
<circle cx="584.40" cy="258.65" r="1.65" fill="#A3B9D1" stroke="#7C97B5" stroke-width="0.45" />
<circle cx="585.20" cy="257.78" r="1.65" fill="#A3B9D1" stroke="#7C97B5" stroke-width="0.45" />
<circle cx="586.00" cy="255.59" r="1.65" fill="#A3B9D1" stroke="#7C97B5" stroke-width="0.45" />
<circle cx="586.80" cy="255.44" r="1.65" fill="#A3B9D1" stroke="#7C97B5" stroke-width="0.45" />
<circle cx="587.60" cy="255.55" r="1.65" fill="#A3B9D1" stroke="#7C97B5" stroke-width="0.45" />
<circle cx="588.40" cy="258.59" r="1.65" fill="#A3B9D1" stroke="#7C97B5" stroke-width="0.45" />
<circle cx="589.20" cy="258.22" r="1.65" fill="#A3B9D1" stroke="#7C97B5" stroke-width="0.45" />
<circle cx="590.00" cy="255.60" r="1.65" fill="#A3B9D1" stroke="#7C97B5" stroke-width="0.45" />
<circle cx="590.80" cy="258.34" r="1.65" fill="#A3B9D1" stroke="#7C97B5" stroke-width="0.45" />
<circle cx="591.60" cy="258.98" r="1.65" fill="#A3B9D1" stroke="#7C97B5" stroke-width="0.45" />
<circle cx="592.40" cy="257.71" r="1.65" fill="#A3B9D1" stroke="#7C97B5" stroke-width="0.45" />
<circle cx="593.20" cy="256.50" r="1.65" fill="#A3B9D1" stroke="#7C97B5" stroke-width="0.45" />
<circle cx="594.00" cy="257.31" r="1.65" fill="#A3B9D1" stroke="#7C97B5" stroke-width="0.45" />
<circle cx="594.80" cy="255.67" r="1.65" fill="#A3B9D1" stroke="#7C97B5" stroke-width="0.45" />
<circle cx="595.60" cy="255.22" r="1.65" fill="#A3B9D1" stroke="#7C97B5" stroke-width="0.45" />
<circle cx="596.40" cy="259.07" r="1.65" fill="#A3B9D1" stroke="#7C97B5" stroke-width="0.45" />
<circle cx="597.00" cy="260.11" r="1.65" fill="#A3B9D1" stroke="#7C97B5" stroke-width="0.45" />
<circle cx="597.80" cy="259.74" r="1.65" fill="#A3B9D1" stroke="#7C97B5" stroke-width="0.45" />
<circle cx="598.60" cy="261.18" r="1.65" fill="#A3B9D1" stroke="#7C97B5" stroke-width="0.45" />
<circle cx="599.40" cy="259.53" r="1.65" fill="#A3B9D1" stroke="#7C97B5" stroke-width="0.45" />
<circle cx="600.20" cy="261.07" r="1.65" fill="#A3B9D1" stroke="#7C97B5" stroke-width="0.45" />
<circle cx="601.00" cy="260.96" r="1.65" fill="#A3B9D1" stroke="#7C97B5" stroke-width="0.45" />
<circle cx="601.80" cy="258.92" r="1.65" fill="#A3B9D1" stroke="#7C97B5" stroke-width="0.45" />
<circle cx="602.60" cy="259.11" r="1.65" fill="#A3B9D1" stroke="#7C97B5" stroke-width="0.45" />
<circle cx="603.40" cy="259.30" r="1.65" fill="#A3B9D1" stroke="#7C97B5" stroke-width="0.45" />
<circle cx="604.20" cy="259.18" r="1.65" fill="#A3B9D1" stroke="#7C97B5" stroke-width="0.45" />
<circle cx="605.00" cy="260.40" r="1.65" fill="#A3B9D1" stroke="#7C97B5" stroke-width="0.45" />
<circle cx="605.80" cy="259.34" r="1.65" fill="#A3B9D1" stroke="#7C97B5" stroke-width="0.45" />
<circle cx="606.60" cy="259.94" r="1.65" fill="#A3B9D1" stroke="#7C97B5" stroke-width="0.45" />
<circle cx="607.40" cy="259.01" r="1.65" fill="#A3B9D1" stroke="#7C97B5" stroke-width="0.45" />
<circle cx="608.30" cy="230.60" r="1.65" fill="#A3B9D1" stroke="#7C97B5" stroke-width="0.45" />
<circle cx="609.70" cy="235.80" r="1.65" fill="#A3B9D1" stroke="#7C97B5" stroke-width="0.45" />
<circle cx="610.50" cy="238.00" r="1.65" fill="#A3B9D1" stroke="#7C97B5" stroke-width="0.45" />
<circle cx="611.50" cy="240.20" r="1.65" fill="#A3B9D1" stroke="#7C97B5" stroke-width="0.45" />
<circle cx="612.80" cy="243.20" r="1.65" fill="#A3B9D1" stroke="#7C97B5" stroke-width="0.45" />
<circle cx="613.50" cy="256.40" r="1.65" fill="#A3B9D1" stroke="#7C97B5" stroke-width="0.45" />
<circle cx="614.30" cy="253.99" r="1.65" fill="#A3B9D1" stroke="#7C97B5" stroke-width="0.45" />
<circle cx="615.10" cy="254.49" r="1.65" fill="#A3B9D1" stroke="#7C97B5" stroke-width="0.45" />
<circle cx="615.90" cy="255.08" r="1.65" fill="#A3B9D1" stroke="#7C97B5" stroke-width="0.45" />
<circle cx="616.70" cy="256.53" r="1.65" fill="#A3B9D1" stroke="#7C97B5" stroke-width="0.45" />
<circle cx="617.50" cy="254.44" r="1.65" fill="#A3B9D1" stroke="#7C97B5" stroke-width="0.45" />
<circle cx="618.30" cy="256.66" r="1.65" fill="#A3B9D1" stroke="#7C97B5" stroke-width="0.45" />
<circle cx="619.10" cy="254.87" r="1.65" fill="#A3B9D1" stroke="#7C97B5" stroke-width="0.45" />
<circle cx="619.90" cy="255.04" r="1.65" fill="#A3B9D1" stroke="#7C97B5" stroke-width="0.45" />
<circle cx="620.70" cy="255.04" r="1.65" fill="#A3B9D1" stroke="#7C97B5" stroke-width="0.45" />
<circle cx="621.50" cy="252.85" r="1.65" fill="#A3B9D1" stroke="#7C97B5" stroke-width="0.45" />
<circle cx="622.30" cy="254.75" r="1.65" fill="#A3B9D1" stroke="#7C97B5" stroke-width="0.45" />
<circle cx="623.10" cy="253.65" r="1.65" fill="#A3B9D1" stroke="#7C97B5" stroke-width="0.45" />
<circle cx="623.90" cy="252.90" r="1.65" fill="#A3B9D1" stroke="#7C97B5" stroke-width="0.45" />
<circle cx="624.70" cy="256.44" r="1.65" fill="#A3B9D1" stroke="#7C97B5" stroke-width="0.45" />
<circle cx="625.50" cy="253.72" r="1.65" fill="#A3B9D1" stroke="#7C97B5" stroke-width="0.45" />
<circle cx="626.30" cy="255.08" r="1.65" fill="#A3B9D1" stroke="#7C97B5" stroke-width="0.45" />
<circle cx="627.10" cy="256.22" r="1.65" fill="#A3B9D1" stroke="#7C97B5" stroke-width="0.45" />
<circle cx="627.90" cy="255.52" r="1.65" fill="#A3B9D1" stroke="#7C97B5" stroke-width="0.45" />
<circle cx="628.70" cy="254.54" r="1.65" fill="#A3B9D1" stroke="#7C97B5" stroke-width="0.45" />
<circle cx="629.50" cy="255.42" r="1.65" fill="#A3B9D1" stroke="#7C97B5" stroke-width="0.45" />
<circle cx="630.30" cy="255.63" r="1.65" fill="#A3B9D1" stroke="#7C97B5" stroke-width="0.45" />
<circle cx="631.10" cy="256.67" r="1.65" fill="#A3B9D1" stroke="#7C97B5" stroke-width="0.45" />
<circle cx="631.90" cy="253.72" r="1.65" fill="#A3B9D1" stroke="#7C97B5" stroke-width="0.45" />
<circle cx="632.70" cy="255.76" r="1.65" fill="#A3B9D1" stroke="#7C97B5" stroke-width="0.45" />
<circle cx="633.50" cy="254.42" r="1.65" fill="#A3B9D1" stroke="#7C97B5" stroke-width="0.45" />
<circle cx="634.30" cy="254.59" r="1.65" fill="#A3B9D1" stroke="#7C97B5" stroke-width="0.45" />
<circle cx="635.10" cy="256.80" r="1.65" fill="#A3B9D1" stroke="#7C97B5" stroke-width="0.45" />
<circle cx="635.90" cy="255.68" r="1.65" fill="#A3B9D1" stroke="#7C97B5" stroke-width="0.45" />
<circle cx="636.70" cy="255.95" r="1.65" fill="#A3B9D1" stroke="#7C97B5" stroke-width="0.45" />
<circle cx="637.50" cy="256.86" r="1.65" fill="#A3B9D1" stroke="#7C97B5" stroke-width="0.45" />
<circle cx="638.30" cy="257.57" r="1.65" fill="#A3B9D1" stroke="#7C97B5" stroke-width="0.45" />
<circle cx="639.10" cy="255.54" r="1.65" fill="#A3B9D1" stroke="#7C97B5" stroke-width="0.45" />
<circle cx="639.90" cy="256.32" r="1.65" fill="#A3B9D1" stroke="#7C97B5" stroke-width="0.45" />
<circle cx="640.70" cy="255.89" r="1.65" fill="#A3B9D1" stroke="#7C97B5" stroke-width="0.45" />
<circle cx="641.50" cy="255.96" r="1.65" fill="#A3B9D1" stroke="#7C97B5" stroke-width="0.45" />
<circle cx="642.30" cy="256.79" r="1.65" fill="#A3B9D1" stroke="#7C97B5" stroke-width="0.45" />
<circle cx="643.10" cy="255.77" r="1.65" fill="#A3B9D1" stroke="#7C97B5" stroke-width="0.45" />
<circle cx="643.90" cy="256.16" r="1.65" fill="#A3B9D1" stroke="#7C97B5" stroke-width="0.45" />
<circle cx="644.70" cy="255.95" r="1.65" fill="#A3B9D1" stroke="#7C97B5" stroke-width="0.45" />
<circle cx="645.50" cy="258.03" r="1.65" fill="#A3B9D1" stroke="#7C97B5" stroke-width="0.45" />
<circle cx="646.30" cy="257.00" r="1.65" fill="#A3B9D1" stroke="#7C97B5" stroke-width="0.45" />
<circle cx="647.10" cy="257.82" r="1.65" fill="#A3B9D1" stroke="#7C97B5" stroke-width="0.45" />
<circle cx="647.90" cy="258.15" r="1.65" fill="#A3B9D1" stroke="#7C97B5" stroke-width="0.45" />
<circle cx="648.70" cy="255.18" r="1.65" fill="#A3B9D1" stroke="#7C97B5" stroke-width="0.45" />
<circle cx="649.50" cy="256.54" r="1.65" fill="#A3B9D1" stroke="#7C97B5" stroke-width="0.45" />
<circle cx="650.30" cy="258.26" r="1.65" fill="#A3B9D1" stroke="#7C97B5" stroke-width="0.45" />
<circle cx="651.10" cy="257.84" r="1.65" fill="#A3B9D1" stroke="#7C97B5" stroke-width="0.45" />
<circle cx="651.90" cy="254.79" r="1.65" fill="#A3B9D1" stroke="#7C97B5" stroke-width="0.45" />
<circle cx="652.70" cy="254.76" r="1.65" fill="#A3B9D1" stroke="#7C97B5" stroke-width="0.45" />
<circle cx="653.50" cy="256.21" r="1.65" fill="#A3B9D1" stroke="#7C97B5" stroke-width="0.45" />
<circle cx="654.30" cy="254.62" r="1.65" fill="#A3B9D1" stroke="#7C97B5" stroke-width="0.45" />
<circle cx="655.10" cy="255.39" r="1.65" fill="#A3B9D1" stroke="#7C97B5" stroke-width="0.45" />
<circle cx="655.90" cy="254.69" r="1.65" fill="#A3B9D1" stroke="#7C97B5" stroke-width="0.45" />
<circle cx="478.20" cy="315.10" r="1.70" fill="#D8C1BB" stroke="#BC9F98" stroke-width="0.45" />
<circle cx="477.50" cy="316.90" r="1.70" fill="#D8C1BB" stroke="#BC9F98" stroke-width="0.45" />
<circle cx="481.40" cy="314.10" r="1.70" fill="#D8C1BB" stroke="#BC9F98" stroke-width="0.45" />
<circle cx="483.70" cy="313.70" r="1.70" fill="#D8C1BB" stroke="#BC9F98" stroke-width="0.45" />
<circle cx="482.30" cy="316.00" r="1.70" fill="#D8C1BB" stroke="#BC9F98" stroke-width="0.45" />
<circle cx="486.00" cy="316.90" r="1.70" fill="#D8C1BB" stroke="#BC9F98" stroke-width="0.45" />
<circle cx="488.30" cy="316.00" r="1.70" fill="#D8C1BB" stroke="#BC9F98" stroke-width="0.45" />
<circle cx="480.00" cy="321.90" r="1.70" fill="#D8C1BB" stroke="#BC9F98" stroke-width="0.45" />
<circle cx="484.60" cy="321.90" r="1.70" fill="#D8C1BB" stroke="#BC9F98" stroke-width="0.45" />
<circle cx="486.90" cy="321.90" r="1.70" fill="#D8C1BB" stroke="#BC9F98" stroke-width="0.45" />
<circle cx="488.70" cy="318.70" r="1.70" fill="#D8C1BB" stroke="#BC9F98" stroke-width="0.45" />
<circle cx="491.50" cy="320.10" r="1.70" fill="#D8C1BB" stroke="#BC9F98" stroke-width="0.45" />
<circle cx="493.30" cy="319.60" r="1.70" fill="#D8C1BB" stroke="#BC9F98" stroke-width="0.45" />
<circle cx="491.90" cy="324.20" r="1.70" fill="#D8C1BB" stroke="#BC9F98" stroke-width="0.45" />
<circle cx="494.20" cy="321.90" r="1.70" fill="#D8C1BB" stroke="#BC9F98" stroke-width="0.45" />
<circle cx="495.60" cy="325.60" r="1.70" fill="#D8C1BB" stroke="#BC9F98" stroke-width="0.45" />
<circle cx="496.90" cy="322.80" r="1.70" fill="#D8C1BB" stroke="#BC9F98" stroke-width="0.45" />
<circle cx="498.80" cy="321.50" r="1.70" fill="#D8C1BB" stroke="#BC9F98" stroke-width="0.45" />
<circle cx="499.70" cy="324.20" r="1.70" fill="#D8C1BB" stroke="#BC9F98" stroke-width="0.45" />
<circle cx="501.10" cy="325.10" r="1.70" fill="#D8C1BB" stroke="#BC9F98" stroke-width="0.45" />
<circle cx="502.40" cy="318.70" r="1.70" fill="#D8C1BB" stroke="#BC9F98" stroke-width="0.45" />
<circle cx="503.80" cy="327.40" r="1.70" fill="#D8C1BB" stroke="#BC9F98" stroke-width="0.45" />
<circle cx="505.20" cy="310.90" r="1.70" fill="#D8C1BB" stroke="#BC9F98" stroke-width="0.45" />
<circle cx="506.10" cy="322.80" r="1.70" fill="#D8C1BB" stroke="#BC9F98" stroke-width="0.45" />
<circle cx="507.40" cy="319.60" r="1.70" fill="#D8C1BB" stroke="#BC9F98" stroke-width="0.45" />
<circle cx="508.40" cy="326.50" r="1.70" fill="#D8C1BB" stroke="#BC9F98" stroke-width="0.45" />
<circle cx="509.70" cy="321.90" r="1.70" fill="#D8C1BB" stroke="#BC9F98" stroke-width="0.45" />
<circle cx="490.50" cy="333.30" r="1.70" fill="#D8C1BB" stroke="#BC9F98" stroke-width="0.45" />
<circle cx="499.20" cy="331.50" r="1.70" fill="#D8C1BB" stroke="#BC9F98" stroke-width="0.45" />
<circle cx="511.10" cy="333.80" r="1.70" fill="#D8C1BB" stroke="#BC9F98" stroke-width="0.45" />
<circle cx="513.40" cy="334.30" r="1.70" fill="#D8C1BB" stroke="#BC9F98" stroke-width="0.45" />
<circle cx="512.00" cy="329.70" r="1.70" fill="#D8C1BB" stroke="#BC9F98" stroke-width="0.45" />
<circle cx="514.30" cy="327.40" r="1.70" fill="#D8C1BB" stroke="#BC9F98" stroke-width="0.45" />
<circle cx="516.10" cy="326.00" r="1.70" fill="#D8C1BB" stroke="#BC9F98" stroke-width="0.45" />
<circle cx="517.50" cy="323.30" r="1.70" fill="#D8C1BB" stroke="#BC9F98" stroke-width="0.45" />
<circle cx="518.90" cy="324.70" r="1.70" fill="#D8C1BB" stroke="#BC9F98" stroke-width="0.45" />
<circle cx="520.20" cy="321.90" r="1.70" fill="#D8C1BB" stroke="#BC9F98" stroke-width="0.45" />
<circle cx="521.60" cy="322.80" r="1.70" fill="#D8C1BB" stroke="#BC9F98" stroke-width="0.45" />
<circle cx="523.00" cy="320.10" r="1.70" fill="#D8C1BB" stroke="#BC9F98" stroke-width="0.45" />
<circle cx="524.40" cy="319.60" r="1.70" fill="#D8C1BB" stroke="#BC9F98" stroke-width="0.45" />
<circle cx="479.50" cy="318.50" r="1.70" fill="#D8C1BB" stroke="#BC9F98" stroke-width="0.45" />
<circle cx="485.00" cy="318.00" r="1.70" fill="#D8C1BB" stroke="#BC9F98" stroke-width="0.45" />
<circle cx="489.50" cy="322.50" r="1.70" fill="#D8C1BB" stroke="#BC9F98" stroke-width="0.45" />
<circle cx="497.50" cy="326.50" r="1.70" fill="#D8C1BB" stroke="#BC9F98" stroke-width="0.45" />
<circle cx="500.50" cy="322.00" r="1.70" fill="#D8C1BB" stroke="#BC9F98" stroke-width="0.45" />
<circle cx="504.50" cy="323.50" r="1.70" fill="#D8C1BB" stroke="#BC9F98" stroke-width="0.45" />
<circle cx="510.50" cy="324.00" r="1.70" fill="#D8C1BB" stroke="#BC9F98" stroke-width="0.45" />
<circle cx="519.00" cy="322.52" r="1.70" fill="#D8C1BB" stroke="#BC9F98" stroke-width="0.45" />
<circle cx="520.00" cy="323.36" r="1.70" fill="#D8C1BB" stroke="#BC9F98" stroke-width="0.45" />
<circle cx="521.00" cy="324.19" r="1.70" fill="#D8C1BB" stroke="#BC9F98" stroke-width="0.45" />
<circle cx="522.00" cy="319.89" r="1.70" fill="#D8C1BB" stroke="#BC9F98" stroke-width="0.45" />
<circle cx="523.00" cy="323.41" r="1.70" fill="#D8C1BB" stroke="#BC9F98" stroke-width="0.45" />
<circle cx="524.00" cy="323.23" r="1.70" fill="#D8C1BB" stroke="#BC9F98" stroke-width="0.45" />
<circle cx="525.00" cy="320.28" r="1.70" fill="#D8C1BB" stroke="#BC9F98" stroke-width="0.45" />
<circle cx="526.00" cy="324.87" r="1.70" fill="#D8C1BB" stroke="#BC9F98" stroke-width="0.45" />
<circle cx="527.00" cy="325.54" r="1.70" fill="#D8C1BB" stroke="#BC9F98" stroke-width="0.45" />
<circle cx="528.00" cy="321.20" r="1.70" fill="#D8C1BB" stroke="#BC9F98" stroke-width="0.45" />
<circle cx="529.00" cy="325.75" r="1.70" fill="#D8C1BB" stroke="#BC9F98" stroke-width="0.45" />
<circle cx="530.00" cy="322.58" r="1.70" fill="#D8C1BB" stroke="#BC9F98" stroke-width="0.45" />
<circle cx="531.00" cy="323.27" r="1.70" fill="#D8C1BB" stroke="#BC9F98" stroke-width="0.45" />
<circle cx="532.00" cy="326.44" r="1.70" fill="#D8C1BB" stroke="#BC9F98" stroke-width="0.45" />
<circle cx="533.00" cy="325.65" r="1.70" fill="#D8C1BB" stroke="#BC9F98" stroke-width="0.45" />
<circle cx="534.00" cy="321.78" r="1.70" fill="#D8C1BB" stroke="#BC9F98" stroke-width="0.45" />
<circle cx="535.00" cy="323.55" r="1.70" fill="#D8C1BB" stroke="#BC9F98" stroke-width="0.45" />
<circle cx="536.00" cy="324.21" r="1.70" fill="#D8C1BB" stroke="#BC9F98" stroke-width="0.45" />
<circle cx="537.00" cy="323.30" r="1.70" fill="#D8C1BB" stroke="#BC9F98" stroke-width="0.45" />
<circle cx="538.00" cy="322.60" r="1.70" fill="#D8C1BB" stroke="#BC9F98" stroke-width="0.45" />
<circle cx="539.00" cy="323.49" r="1.70" fill="#D8C1BB" stroke="#BC9F98" stroke-width="0.45" />
<circle cx="540.00" cy="326.06" r="1.70" fill="#D8C1BB" stroke="#BC9F98" stroke-width="0.45" />
<circle cx="541.00" cy="322.00" r="1.70" fill="#D8C1BB" stroke="#BC9F98" stroke-width="0.45" />
<circle cx="542.00" cy="325.36" r="1.70" fill="#D8C1BB" stroke="#BC9F98" stroke-width="0.45" />
<circle cx="543.00" cy="324.84" r="1.70" fill="#D8C1BB" stroke="#BC9F98" stroke-width="0.45" />
<circle cx="544.00" cy="322.45" r="1.70" fill="#D8C1BB" stroke="#BC9F98" stroke-width="0.45" />
<circle cx="545.00" cy="322.82" r="1.70" fill="#D8C1BB" stroke="#BC9F98" stroke-width="0.45" />
<circle cx="546.00" cy="325.00" r="1.70" fill="#D8C1BB" stroke="#BC9F98" stroke-width="0.45" />
<circle cx="547.00" cy="324.35" r="1.70" fill="#D8C1BB" stroke="#BC9F98" stroke-width="0.45" />
<circle cx="548.00" cy="321.35" r="1.70" fill="#D8C1BB" stroke="#BC9F98" stroke-width="0.45" />
<circle cx="549.00" cy="327.93" r="1.70" fill="#D8C1BB" stroke="#BC9F98" stroke-width="0.45" />
<circle cx="550.00" cy="326.69" r="1.70" fill="#D8C1BB" stroke="#BC9F98" stroke-width="0.45" />
<circle cx="551.00" cy="328.10" r="1.70" fill="#D8C1BB" stroke="#BC9F98" stroke-width="0.45" />
<circle cx="552.00" cy="322.17" r="1.70" fill="#D8C1BB" stroke="#BC9F98" stroke-width="0.45" />
<circle cx="553.00" cy="323.43" r="1.70" fill="#D8C1BB" stroke="#BC9F98" stroke-width="0.45" />
<circle cx="554.00" cy="321.98" r="1.70" fill="#D8C1BB" stroke="#BC9F98" stroke-width="0.45" />
<circle cx="555.00" cy="327.29" r="1.70" fill="#D8C1BB" stroke="#BC9F98" stroke-width="0.45" />
<circle cx="556.00" cy="323.86" r="1.70" fill="#D8C1BB" stroke="#BC9F98" stroke-width="0.45" />
<circle cx="557.00" cy="323.01" r="1.70" fill="#D8C1BB" stroke="#BC9F98" stroke-width="0.45" />
<circle cx="558.00" cy="325.19" r="1.70" fill="#D8C1BB" stroke="#BC9F98" stroke-width="0.45" />
<circle cx="559.00" cy="328.75" r="1.70" fill="#D8C1BB" stroke="#BC9F98" stroke-width="0.45" />
<circle cx="531.50" cy="329.50" r="1.70" fill="#D8C1BB" stroke="#BC9F98" stroke-width="0.45" />
<circle cx="536.50" cy="330.50" r="1.70" fill="#D8C1BB" stroke="#BC9F98" stroke-width="0.45" />
<circle cx="549.00" cy="330.00" r="1.70" fill="#D8C1BB" stroke="#BC9F98" stroke-width="0.45" />
<circle cx="553.50" cy="322.00" r="1.70" fill="#D8C1BB" stroke="#BC9F98" stroke-width="0.45" />
<circle cx="556.50" cy="321.50" r="1.70" fill="#D8C1BB" stroke="#BC9F98" stroke-width="0.45" />
<circle cx="560.00" cy="327.59" r="1.70" fill="#D8C1BB" stroke="#BC9F98" stroke-width="0.45" />
<circle cx="560.90" cy="324.97" r="1.70" fill="#D8C1BB" stroke="#BC9F98" stroke-width="0.45" />
<circle cx="561.80" cy="324.61" r="1.70" fill="#D8C1BB" stroke="#BC9F98" stroke-width="0.45" />
<circle cx="562.70" cy="328.64" r="1.70" fill="#D8C1BB" stroke="#BC9F98" stroke-width="0.45" />
<circle cx="563.60" cy="327.07" r="1.70" fill="#D8C1BB" stroke="#BC9F98" stroke-width="0.45" />
<circle cx="564.50" cy="327.90" r="1.70" fill="#D8C1BB" stroke="#BC9F98" stroke-width="0.45" />
<circle cx="565.40" cy="325.03" r="1.70" fill="#D8C1BB" stroke="#BC9F98" stroke-width="0.45" />
<circle cx="566.30" cy="325.05" r="1.70" fill="#D8C1BB" stroke="#BC9F98" stroke-width="0.45" />
<circle cx="567.20" cy="328.38" r="1.70" fill="#D8C1BB" stroke="#BC9F98" stroke-width="0.45" />
<circle cx="568.10" cy="327.25" r="1.70" fill="#D8C1BB" stroke="#BC9F98" stroke-width="0.45" />
<circle cx="569.00" cy="325.66" r="1.70" fill="#D8C1BB" stroke="#BC9F98" stroke-width="0.45" />
<circle cx="569.90" cy="330.17" r="1.70" fill="#D8C1BB" stroke="#BC9F98" stroke-width="0.45" />
<circle cx="570.00" cy="328.78" r="1.70" fill="#D8C1BB" stroke="#BC9F98" stroke-width="0.45" />
<circle cx="570.75" cy="329.39" r="1.70" fill="#D8C1BB" stroke="#BC9F98" stroke-width="0.45" />
<circle cx="571.50" cy="326.80" r="1.70" fill="#D8C1BB" stroke="#BC9F98" stroke-width="0.45" />
<circle cx="572.25" cy="329.58" r="1.70" fill="#D8C1BB" stroke="#BC9F98" stroke-width="0.45" />
<circle cx="573.00" cy="326.74" r="1.70" fill="#D8C1BB" stroke="#BC9F98" stroke-width="0.45" />
<circle cx="573.75" cy="329.61" r="1.70" fill="#D8C1BB" stroke="#BC9F98" stroke-width="0.45" />
<circle cx="574.50" cy="328.13" r="1.70" fill="#D8C1BB" stroke="#BC9F98" stroke-width="0.45" />
<circle cx="575.25" cy="327.72" r="1.70" fill="#D8C1BB" stroke="#BC9F98" stroke-width="0.45" />
<circle cx="576.00" cy="328.49" r="1.70" fill="#D8C1BB" stroke="#BC9F98" stroke-width="0.45" />
<circle cx="576.75" cy="329.84" r="1.70" fill="#D8C1BB" stroke="#BC9F98" stroke-width="0.45" />
<circle cx="577.50" cy="327.46" r="1.70" fill="#D8C1BB" stroke="#BC9F98" stroke-width="0.45" />
<circle cx="578.25" cy="326.97" r="1.70" fill="#D8C1BB" stroke="#BC9F98" stroke-width="0.45" />
<circle cx="579.00" cy="328.40" r="1.70" fill="#D8C1BB" stroke="#BC9F98" stroke-width="0.45" />
<circle cx="579.75" cy="327.36" r="1.70" fill="#D8C1BB" stroke="#BC9F98" stroke-width="0.45" />
<circle cx="580.50" cy="326.89" r="1.70" fill="#D8C1BB" stroke="#BC9F98" stroke-width="0.45" />
<circle cx="581.25" cy="327.08" r="1.70" fill="#D8C1BB" stroke="#BC9F98" stroke-width="0.45" />
<circle cx="582.00" cy="326.68" r="1.70" fill="#D8C1BB" stroke="#BC9F98" stroke-width="0.45" />
<circle cx="582.75" cy="327.23" r="1.70" fill="#D8C1BB" stroke="#BC9F98" stroke-width="0.45" />
<circle cx="583.50" cy="327.62" r="1.70" fill="#D8C1BB" stroke="#BC9F98" stroke-width="0.45" />
<circle cx="584.25" cy="327.60" r="1.70" fill="#D8C1BB" stroke="#BC9F98" stroke-width="0.45" />
<circle cx="585.00" cy="329.23" r="1.70" fill="#D8C1BB" stroke="#BC9F98" stroke-width="0.45" />
<circle cx="585.75" cy="327.54" r="1.70" fill="#D8C1BB" stroke="#BC9F98" stroke-width="0.45" />
<circle cx="586.50" cy="328.30" r="1.70" fill="#D8C1BB" stroke="#BC9F98" stroke-width="0.45" />
<circle cx="587.25" cy="327.14" r="1.70" fill="#D8C1BB" stroke="#BC9F98" stroke-width="0.45" />
<circle cx="588.00" cy="327.75" r="1.70" fill="#D8C1BB" stroke="#BC9F98" stroke-width="0.45" />
<circle cx="588.75" cy="326.57" r="1.70" fill="#D8C1BB" stroke="#BC9F98" stroke-width="0.45" />
<circle cx="589.50" cy="327.40" r="1.70" fill="#D8C1BB" stroke="#BC9F98" stroke-width="0.45" />
<circle cx="590.25" cy="326.56" r="1.70" fill="#D8C1BB" stroke="#BC9F98" stroke-width="0.45" />
<circle cx="591.00" cy="329.14" r="1.70" fill="#D8C1BB" stroke="#BC9F98" stroke-width="0.45" />
<circle cx="591.75" cy="328.48" r="1.70" fill="#D8C1BB" stroke="#BC9F98" stroke-width="0.45" />
<circle cx="592.50" cy="327.18" r="1.70" fill="#D8C1BB" stroke="#BC9F98" stroke-width="0.45" />
<circle cx="593.25" cy="328.21" r="1.70" fill="#D8C1BB" stroke="#BC9F98" stroke-width="0.45" />
<circle cx="594.00" cy="329.86" r="1.70" fill="#D8C1BB" stroke="#BC9F98" stroke-width="0.45" />
<circle cx="594.75" cy="326.88" r="1.70" fill="#D8C1BB" stroke="#BC9F98" stroke-width="0.45" />
<circle cx="595.50" cy="329.45" r="1.70" fill="#D8C1BB" stroke="#BC9F98" stroke-width="0.45" />
<circle cx="596.25" cy="328.06" r="1.70" fill="#D8C1BB" stroke="#BC9F98" stroke-width="0.45" />
<circle cx="597.00" cy="328.28" r="1.70" fill="#D8C1BB" stroke="#BC9F98" stroke-width="0.45" />
<circle cx="597.75" cy="329.50" r="1.70" fill="#D8C1BB" stroke="#BC9F98" stroke-width="0.45" />
<circle cx="598.50" cy="327.92" r="1.70" fill="#D8C1BB" stroke="#BC9F98" stroke-width="0.45" />
<circle cx="599.25" cy="328.32" r="1.70" fill="#D8C1BB" stroke="#BC9F98" stroke-width="0.45" />
<circle cx="600.00" cy="328.98" r="1.70" fill="#D8C1BB" stroke="#BC9F98" stroke-width="0.45" />
<circle cx="600.75" cy="330.04" r="1.70" fill="#D8C1BB" stroke="#BC9F98" stroke-width="0.45" />
<circle cx="601.00" cy="326.69" r="1.70" fill="#D8C1BB" stroke="#BC9F98" stroke-width="0.45" />
<circle cx="601.50" cy="327.32" r="1.70" fill="#D8C1BB" stroke="#BC9F98" stroke-width="0.45" />
<circle cx="602.00" cy="326.72" r="1.70" fill="#D8C1BB" stroke="#BC9F98" stroke-width="0.45" />
<circle cx="602.50" cy="326.23" r="1.70" fill="#D8C1BB" stroke="#BC9F98" stroke-width="0.45" />
<circle cx="603.00" cy="325.42" r="1.70" fill="#D8C1BB" stroke="#BC9F98" stroke-width="0.45" />
<circle cx="603.50" cy="324.96" r="1.70" fill="#D8C1BB" stroke="#BC9F98" stroke-width="0.45" />
<circle cx="604.00" cy="324.03" r="1.70" fill="#D8C1BB" stroke="#BC9F98" stroke-width="0.45" />
<circle cx="604.50" cy="323.84" r="1.70" fill="#D8C1BB" stroke="#BC9F98" stroke-width="0.45" />
<circle cx="605.00" cy="323.37" r="1.70" fill="#D8C1BB" stroke="#BC9F98" stroke-width="0.45" />
<circle cx="605.50" cy="324.37" r="1.70" fill="#D8C1BB" stroke="#BC9F98" stroke-width="0.45" />
<circle cx="606.00" cy="323.05" r="1.70" fill="#D8C1BB" stroke="#BC9F98" stroke-width="0.45" />
<circle cx="606.50" cy="322.52" r="1.70" fill="#D8C1BB" stroke="#BC9F98" stroke-width="0.45" />
<circle cx="607.00" cy="322.02" r="1.70" fill="#D8C1BB" stroke="#BC9F98" stroke-width="0.45" />
<circle cx="608.30" cy="343.60" r="1.70" fill="#D8C1BB" stroke="#BC9F98" stroke-width="0.45" />
<circle cx="609.30" cy="341.80" r="1.70" fill="#D8C1BB" stroke="#BC9F98" stroke-width="0.45" />
<circle cx="610.20" cy="340.00" r="1.70" fill="#D8C1BB" stroke="#BC9F98" stroke-width="0.45" />
<circle cx="611.00" cy="338.00" r="1.70" fill="#D8C1BB" stroke="#BC9F98" stroke-width="0.45" />
<circle cx="611.70" cy="336.30" r="1.70" fill="#D8C1BB" stroke="#BC9F98" stroke-width="0.45" />
<circle cx="612.50" cy="331.22" r="1.70" fill="#D8C1BB" stroke="#BC9F98" stroke-width="0.45" />
<circle cx="613.20" cy="331.18" r="1.70" fill="#D8C1BB" stroke="#BC9F98" stroke-width="0.45" />
<circle cx="613.90" cy="330.45" r="1.70" fill="#D8C1BB" stroke="#BC9F98" stroke-width="0.45" />
<circle cx="614.60" cy="329.15" r="1.70" fill="#D8C1BB" stroke="#BC9F98" stroke-width="0.45" />
<circle cx="615.30" cy="328.90" r="1.70" fill="#D8C1BB" stroke="#BC9F98" stroke-width="0.45" />
<circle cx="616.00" cy="328.92" r="1.70" fill="#D8C1BB" stroke="#BC9F98" stroke-width="0.45" />
<circle cx="616.70" cy="329.28" r="1.70" fill="#D8C1BB" stroke="#BC9F98" stroke-width="0.45" />
<circle cx="617.40" cy="328.25" r="1.70" fill="#D8C1BB" stroke="#BC9F98" stroke-width="0.45" />
<circle cx="618.10" cy="328.98" r="1.70" fill="#D8C1BB" stroke="#BC9F98" stroke-width="0.45" />
<circle cx="618.80" cy="328.30" r="1.70" fill="#D8C1BB" stroke="#BC9F98" stroke-width="0.45" />
<circle cx="619.50" cy="330.26" r="1.70" fill="#D8C1BB" stroke="#BC9F98" stroke-width="0.45" />
<circle cx="620.20" cy="330.16" r="1.70" fill="#D8C1BB" stroke="#BC9F98" stroke-width="0.45" />
<circle cx="620.90" cy="328.75" r="1.70" fill="#D8C1BB" stroke="#BC9F98" stroke-width="0.45" />
<circle cx="621.60" cy="327.71" r="1.70" fill="#D8C1BB" stroke="#BC9F98" stroke-width="0.45" />
<circle cx="622.30" cy="329.74" r="1.70" fill="#D8C1BB" stroke="#BC9F98" stroke-width="0.45" />
<circle cx="623.00" cy="327.64" r="1.70" fill="#D8C1BB" stroke="#BC9F98" stroke-width="0.45" />
<circle cx="623.70" cy="327.65" r="1.70" fill="#D8C1BB" stroke="#BC9F98" stroke-width="0.45" />
<circle cx="624.40" cy="326.45" r="1.70" fill="#D8C1BB" stroke="#BC9F98" stroke-width="0.45" />
<circle cx="625.10" cy="327.46" r="1.70" fill="#D8C1BB" stroke="#BC9F98" stroke-width="0.45" />
<circle cx="625.80" cy="327.61" r="1.70" fill="#D8C1BB" stroke="#BC9F98" stroke-width="0.45" />
<circle cx="626.50" cy="327.56" r="1.70" fill="#D8C1BB" stroke="#BC9F98" stroke-width="0.45" />
<circle cx="627.20" cy="326.52" r="1.70" fill="#D8C1BB" stroke="#BC9F98" stroke-width="0.45" />
<circle cx="627.90" cy="327.30" r="1.70" fill="#D8C1BB" stroke="#BC9F98" stroke-width="0.45" />
<circle cx="628.60" cy="325.67" r="1.70" fill="#D8C1BB" stroke="#BC9F98" stroke-width="0.45" />
<circle cx="629.30" cy="326.32" r="1.70" fill="#D8C1BB" stroke="#BC9F98" stroke-width="0.45" />
<circle cx="630.00" cy="325.66" r="1.70" fill="#D8C1BB" stroke="#BC9F98" stroke-width="0.45" />
<circle cx="630.70" cy="326.46" r="1.70" fill="#D8C1BB" stroke="#BC9F98" stroke-width="0.45" />
<circle cx="631.40" cy="325.25" r="1.70" fill="#D8C1BB" stroke="#BC9F98" stroke-width="0.45" />
<circle cx="632.10" cy="325.06" r="1.70" fill="#D8C1BB" stroke="#BC9F98" stroke-width="0.45" />
<circle cx="632.80" cy="325.77" r="1.70" fill="#D8C1BB" stroke="#BC9F98" stroke-width="0.45" />
<circle cx="633.50" cy="325.43" r="1.70" fill="#D8C1BB" stroke="#BC9F98" stroke-width="0.45" />
<circle cx="634.20" cy="326.35" r="1.70" fill="#D8C1BB" stroke="#BC9F98" stroke-width="0.45" />
<circle cx="634.90" cy="326.05" r="1.70" fill="#D8C1BB" stroke="#BC9F98" stroke-width="0.45" />
<circle cx="635.60" cy="326.58" r="1.70" fill="#D8C1BB" stroke="#BC9F98" stroke-width="0.45" />
<circle cx="636.30" cy="326.17" r="1.70" fill="#D8C1BB" stroke="#BC9F98" stroke-width="0.45" />
<circle cx="637.00" cy="326.22" r="1.70" fill="#D8C1BB" stroke="#BC9F98" stroke-width="0.45" />
<circle cx="637.70" cy="326.57" r="1.70" fill="#D8C1BB" stroke="#BC9F98" stroke-width="0.45" />
<circle cx="638.40" cy="324.97" r="1.70" fill="#D8C1BB" stroke="#BC9F98" stroke-width="0.45" />
<circle cx="639.10" cy="324.65" r="1.70" fill="#D8C1BB" stroke="#BC9F98" stroke-width="0.45" />
<circle cx="639.80" cy="326.49" r="1.70" fill="#D8C1BB" stroke="#BC9F98" stroke-width="0.45" />
<circle cx="640.00" cy="324.69" r="1.70" fill="#D8C1BB" stroke="#BC9F98" stroke-width="0.45" />
<circle cx="640.75" cy="327.40" r="1.70" fill="#D8C1BB" stroke="#BC9F98" stroke-width="0.45" />
<circle cx="641.50" cy="327.10" r="1.70" fill="#D8C1BB" stroke="#BC9F98" stroke-width="0.45" />
<circle cx="642.25" cy="324.41" r="1.70" fill="#D8C1BB" stroke="#BC9F98" stroke-width="0.45" />
<circle cx="643.00" cy="328.12" r="1.70" fill="#D8C1BB" stroke="#BC9F98" stroke-width="0.45" />
<circle cx="643.75" cy="328.44" r="1.70" fill="#D8C1BB" stroke="#BC9F98" stroke-width="0.45" />
<circle cx="644.50" cy="327.29" r="1.70" fill="#D8C1BB" stroke="#BC9F98" stroke-width="0.45" />
<circle cx="645.25" cy="327.85" r="1.70" fill="#D8C1BB" stroke="#BC9F98" stroke-width="0.45" />
<circle cx="646.00" cy="328.28" r="1.70" fill="#D8C1BB" stroke="#BC9F98" stroke-width="0.45" />
<circle cx="646.75" cy="325.25" r="1.70" fill="#D8C1BB" stroke="#BC9F98" stroke-width="0.45" />
<circle cx="647.50" cy="327.09" r="1.70" fill="#D8C1BB" stroke="#BC9F98" stroke-width="0.45" />
<circle cx="648.25" cy="327.07" r="1.70" fill="#D8C1BB" stroke="#BC9F98" stroke-width="0.45" />
<circle cx="649.00" cy="328.66" r="1.70" fill="#D8C1BB" stroke="#BC9F98" stroke-width="0.45" />
<circle cx="649.75" cy="328.59" r="1.70" fill="#D8C1BB" stroke="#BC9F98" stroke-width="0.45" />
<circle cx="650.50" cy="328.76" r="1.70" fill="#D8C1BB" stroke="#BC9F98" stroke-width="0.45" />
<circle cx="651.25" cy="327.71" r="1.70" fill="#D8C1BB" stroke="#BC9F98" stroke-width="0.45" />
<circle cx="652.00" cy="329.20" r="1.70" fill="#D8C1BB" stroke="#BC9F98" stroke-width="0.45" />
<circle cx="652.75" cy="328.30" r="1.70" fill="#D8C1BB" stroke="#BC9F98" stroke-width="0.45" />
<circle cx="653.50" cy="328.42" r="1.70" fill="#D8C1BB" stroke="#BC9F98" stroke-width="0.45" />
<circle cx="654.25" cy="326.35" r="1.70" fill="#D8C1BB" stroke="#BC9F98" stroke-width="0.45" />
<circle cx="655.00" cy="325.51" r="1.70" fill="#D8C1BB" stroke="#BC9F98" stroke-width="0.45" />
<circle cx="655.75" cy="326.04" r="1.70" fill="#D8C1BB" stroke="#BC9F98" stroke-width="0.45" />
<circle cx="640.70" cy="332.30" r="1.70" fill="#D8C1BB" stroke="#BC9F98" stroke-width="0.45" />
</g>
</svg>
</body></html>
